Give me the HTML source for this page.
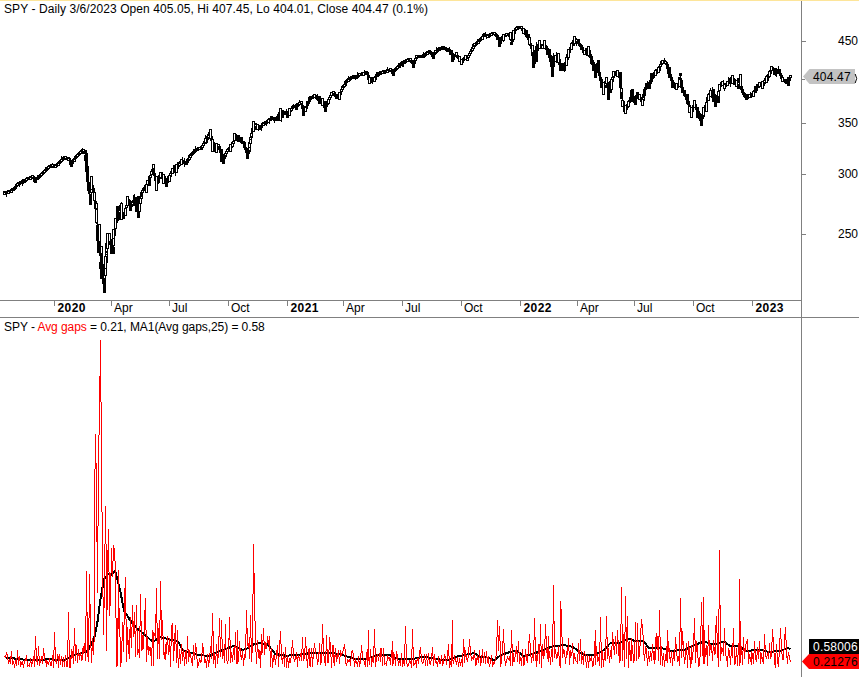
<!DOCTYPE html>
<html><head><meta charset="utf-8"><style>
html,body{margin:0;padding:0;background:#fff;overflow:hidden}
svg{display:block}
text{font-family:"Liberation Sans",sans-serif;font-size:12px;fill:#000}
</style></head><body>
<svg width="859" height="677" viewBox="0 0 859 677">
<rect x="0" y="0" width="859" height="677" fill="#fff"/>
<rect x="0" y="0" width="859" height="1" fill="#fde59a"/>
<g shape-rendering="crispEdges">
<rect x="801" y="1" width="1" height="676" fill="#808080"/>
<rect x="0" y="300" width="801" height="1" fill="#808080"/>
<rect x="0" y="317" width="859" height="1" fill="#808080"/>
<rect x="54" y="301" width="1" height="5" fill="#808080"/><rect x="111" y="301" width="1" height="5" fill="#808080"/><rect x="169" y="301" width="1" height="5" fill="#808080"/><rect x="228" y="301" width="1" height="5" fill="#808080"/><rect x="287" y="301" width="1" height="5" fill="#808080"/><rect x="343" y="301" width="1" height="5" fill="#808080"/><rect x="402" y="301" width="1" height="5" fill="#808080"/><rect x="461" y="301" width="1" height="5" fill="#808080"/><rect x="520" y="301" width="1" height="5" fill="#808080"/><rect x="577" y="301" width="1" height="5" fill="#808080"/><rect x="634" y="301" width="1" height="5" fill="#808080"/><rect x="693" y="301" width="1" height="5" fill="#808080"/><rect x="752" y="301" width="1" height="5" fill="#808080"/>
<rect x="802" y="41" width="4" height="1" fill="#808080"/><rect x="802" y="123" width="4" height="1" fill="#808080"/><rect x="802" y="174" width="4" height="1" fill="#808080"/><rect x="802" y="234" width="4" height="1" fill="#808080"/>
<g fill="#000"><path d="M4 192h1v2h-1z"/><path d="M3 191h3v3h-3z"/><path d="M4 192h1v1h-1z" fill="#fff"/><path d="M5 191h1v3h-1z"/><path d="M4 191h3v3h-3z"/><path d="M6 192h1v5h-1z"/><path d="M5 191h3v3h-3z"/><path d="M7 192h1v2h-1z"/><path d="M6 191h3v3h-3z"/><path d="M8 191h1v2h-1z"/><path d="M7 190h3v3h-3z"/><path d="M8 191h1v1h-1z" fill="#fff"/><path d="M9 191h1v2h-1z"/><path d="M8 190h3v3h-3z"/><path d="M9 191h1v1h-1z" fill="#fff"/><path d="M10 191h1v2h-1z"/><path d="M9 190h3v3h-3z"/><path d="M10 191h1v1h-1z" fill="#fff"/><path d="M10 190h1v2h-1z"/><path d="M9 190h3v3h-3z"/><path d="M10 191h1v1h-1z" fill="#fff"/><path d="M11 190h1v2h-1z"/><path d="M10 189h3v3h-3z"/><path d="M11 190h1v1h-1z" fill="#fff"/><path d="M12 189h1v2h-1z"/><path d="M11 188h3v3h-3z"/><path d="M12 189h1v1h-1z" fill="#fff"/><path d="M13 188h1v2h-1z"/><path d="M12 188h3v3h-3z"/><path d="M13 189h1v1h-1z" fill="#fff"/><path d="M14 187h1v2h-1z"/><path d="M13 187h3v3h-3z"/><path d="M14 188h1v1h-1z" fill="#fff"/><path d="M15 186h1v4h-1z"/><path d="M14 186h3v3h-3z"/><path d="M15 187h1v1h-1z" fill="#fff"/><path d="M16 184h1v2h-1z"/><path d="M15 184h3v3h-3z"/><path d="M16 185h1v1h-1z" fill="#fff"/><path d="M17 183h1v2h-1z"/><path d="M16 183h3v3h-3z"/><path d="M17 184h1v1h-1z" fill="#fff"/><path d="M18 183h1v2h-1z"/><path d="M17 182h3v3h-3z"/><path d="M18 183h1v1h-1z" fill="#fff"/><path d="M19 182h1v5h-1z"/><path d="M18 182h3v3h-3z"/><path d="M19 183h1v1h-1z" fill="#fff"/><path d="M20 182h1v2h-1z"/><path d="M19 181h3v3h-3z"/><path d="M20 182h1v1h-1z" fill="#fff"/><path d="M21 181h1v2h-1z"/><path d="M20 181h3v3h-3z"/><path d="M22 181h1v2h-1z"/><path d="M21 181h3v3h-3z"/><path d="M22 182h1v1h-1z" fill="#fff"/><path d="M22 181h1v5h-1z"/><path d="M21 180h3v3h-3z"/><path d="M22 181h1v1h-1z" fill="#fff"/><path d="M23 180h1v3h-1z"/><path d="M22 179h3v3h-3z"/><path d="M23 180h1v1h-1z" fill="#fff"/><path d="M24 179h1v2h-1z"/><path d="M23 179h3v3h-3z"/><path d="M24 180h1v1h-1z" fill="#fff"/><path d="M25 178h1v3h-1z"/><path d="M24 179h3v3h-3z"/><path d="M25 180h1v1h-1z" fill="#fff"/><path d="M26 178h1v2h-1z"/><path d="M25 178h3v3h-3z"/><path d="M26 179h1v1h-1z" fill="#fff"/><path d="M27 178h1v2h-1z"/><path d="M26 177h3v3h-3z"/><path d="M28 178h1v2h-1z"/><path d="M27 177h3v3h-3z"/><path d="M29 177h1v2h-1z"/><path d="M28 177h3v3h-3z"/><path d="M29 178h1v1h-1z" fill="#fff"/><path d="M30 177h1v2h-1z"/><path d="M29 176h3v3h-3z"/><path d="M30 177h1v1h-1z" fill="#fff"/><path d="M31 176h1v2h-1z"/><path d="M30 176h3v3h-3z"/><path d="M31 177h1v1h-1z" fill="#fff"/><path d="M32 175h1v3h-1z"/><path d="M31 175h3v3h-3z"/><path d="M33 176h1v3h-1z"/><path d="M32 176h3v3h-3z"/><path d="M34 178h1v3h-1z"/><path d="M33 178h3v3h-3z"/><path d="M34 179h1v3h-1z"/><path d="M33 179h3v3h-3z"/><path d="M35 179h1v3h-1z"/><path d="M34 179h3v3h-3z"/><path d="M35 180h1v1h-1z" fill="#fff"/><path d="M36 178h1v2h-1z"/><path d="M35 177h3v3h-3z"/><path d="M36 178h1v1h-1z" fill="#fff"/><path d="M37 177h1v2h-1z"/><path d="M36 177h3v3h-3z"/><path d="M37 178h1v1h-1z" fill="#fff"/><path d="M38 176h1v2h-1z"/><path d="M37 175h3v3h-3z"/><path d="M38 176h1v1h-1z" fill="#fff"/><path d="M39 175h1v2h-1z"/><path d="M38 175h3v3h-3z"/><path d="M39 176h1v1h-1z" fill="#fff"/><path d="M40 174h1v2h-1z"/><path d="M39 174h3v3h-3z"/><path d="M40 175h1v1h-1z" fill="#fff"/><path d="M41 173h1v2h-1z"/><path d="M40 173h3v3h-3z"/><path d="M41 174h1v1h-1z" fill="#fff"/><path d="M42 172h1v3h-1z"/><path d="M41 172h3v3h-3z"/><path d="M42 173h1v1h-1z" fill="#fff"/><path d="M43 171h1v2h-1z"/><path d="M42 171h3v3h-3z"/><path d="M43 172h1v1h-1z" fill="#fff"/><path d="M44 170h1v2h-1z"/><path d="M43 170h3v3h-3z"/><path d="M44 171h1v1h-1z" fill="#fff"/><path d="M45 169h1v3h-1z"/><path d="M44 169h3v3h-3z"/><path d="M45 170h1v1h-1z" fill="#fff"/><path d="M46 169h1v2h-1z"/><path d="M45 168h3v3h-3z"/><path d="M46 169h1v1h-1z" fill="#fff"/><path d="M46 168h1v2h-1z"/><path d="M45 167h3v3h-3z"/><path d="M46 168h1v1h-1z" fill="#fff"/><path d="M47 167h1v2h-1z"/><path d="M46 167h3v3h-3z"/><path d="M47 168h1v1h-1z" fill="#fff"/><path d="M48 166h1v2h-1z"/><path d="M47 166h3v3h-3z"/><path d="M48 167h1v1h-1z" fill="#fff"/><path d="M49 166h1v2h-1z"/><path d="M48 165h3v3h-3z"/><path d="M50 165h1v2h-1z"/><path d="M49 165h3v3h-3z"/><path d="M51 165h1v2h-1z"/><path d="M50 164h3v3h-3z"/><path d="M51 165h1v1h-1z" fill="#fff"/><path d="M52 163h1v4h-1z"/><path d="M51 164h3v3h-3z"/><path d="M52 165h1v1h-1z" fill="#fff"/><path d="M53 165h1v2h-1z"/><path d="M52 165h3v3h-3z"/><path d="M54 165h1v2h-1z"/><path d="M53 164h3v3h-3z"/><path d="M55 166h1v2h-1z"/><path d="M54 165h3v3h-3z"/><path d="M55 166h1v1h-1z" fill="#fff"/><path d="M56 165h1v2h-1z"/><path d="M55 164h3v3h-3z"/><path d="M56 165h1v1h-1z" fill="#fff"/><path d="M57 164h1v2h-1z"/><path d="M56 163h3v3h-3z"/><path d="M57 164h1v1h-1z" fill="#fff"/><path d="M58 163h1v2h-1z"/><path d="M57 163h3v3h-3z"/><path d="M58 164h1v1h-1z" fill="#fff"/><path d="M58 162h1v3h-1z"/><path d="M57 162h3v3h-3z"/><path d="M58 163h1v1h-1z" fill="#fff"/><path d="M59 161h1v2h-1z"/><path d="M58 161h3v3h-3z"/><path d="M59 162h1v1h-1z" fill="#fff"/><path d="M60 159h1v4h-1z"/><path d="M59 160h3v3h-3z"/><path d="M60 161h1v1h-1z" fill="#fff"/><path d="M61 156h1v5h-1z"/><path d="M60 159h3v3h-3z"/><path d="M61 160h1v1h-1z" fill="#fff"/><path d="M62 159h1v2h-1z"/><path d="M61 158h3v3h-3z"/><path d="M62 159h1v1h-1z" fill="#fff"/><path d="M63 158h1v2h-1z"/><path d="M62 157h3v3h-3z"/><path d="M63 158h1v1h-1z" fill="#fff"/><path d="M64 157h1v2h-1z"/><path d="M63 156h3v3h-3z"/><path d="M64 157h1v1h-1z" fill="#fff"/><path d="M65 157h1v2h-1z"/><path d="M64 156h3v3h-3z"/><path d="M66 157h1v2h-1z"/><path d="M65 157h3v3h-3z"/><path d="M67 158h1v2h-1z"/><path d="M66 157h3v3h-3z"/><path d="M68 158h1v2h-1z"/><path d="M67 157h3v3h-3z"/><path d="M69 158h1v4h-1z"/><path d="M68 158h3v3h-3z"/><path d="M70 160h1v4h-1z"/><path d="M69 160h3v3h-3z"/><path d="M70 161h1v5h-1z"/><path d="M69 162h3v3h-3z"/><path d="M71 161h1v5h-1z"/><path d="M70 161h3v3h-3z"/><path d="M71 162h1v1h-1z" fill="#fff"/><path d="M72 160h1v4h-1z"/><path d="M71 161h3v3h-3z"/><path d="M72 162h1v1h-1z" fill="#fff"/><path d="M73 160h1v2h-1z"/><path d="M72 159h3v3h-3z"/><path d="M73 160h1v1h-1z" fill="#fff"/><path d="M74 158h1v3h-1z"/><path d="M73 158h3v3h-3z"/><path d="M74 159h1v1h-1z" fill="#fff"/><path d="M75 157h1v2h-1z"/><path d="M74 156h3v3h-3z"/><path d="M75 157h1v1h-1z" fill="#fff"/><path d="M76 156h1v2h-1z"/><path d="M75 155h3v3h-3z"/><path d="M76 156h1v1h-1z" fill="#fff"/><path d="M77 154h1v2h-1z"/><path d="M76 154h3v3h-3z"/><path d="M77 155h1v1h-1z" fill="#fff"/><path d="M78 153h1v2h-1z"/><path d="M77 153h3v3h-3z"/><path d="M78 154h1v1h-1z" fill="#fff"/><path d="M79 152h1v2h-1z"/><path d="M78 152h3v3h-3z"/><path d="M79 153h1v1h-1z" fill="#fff"/><path d="M80 151h1v2h-1z"/><path d="M79 151h3v3h-3z"/><path d="M80 152h1v1h-1z" fill="#fff"/><path d="M81 151h1v2h-1z"/><path d="M80 150h3v3h-3z"/><path d="M81 151h1v1h-1z" fill="#fff"/><path d="M82 148h1v6h-1z"/><path d="M81 150h3v3h-3z"/><path d="M82 151h1v1h-1z" fill="#fff"/><path d="M82 150h1v2h-1z"/><path d="M81 149h3v3h-3z"/><path d="M83 150h1v2h-1z"/><path d="M82 150h3v3h-3z"/><path d="M83 151h1v1h-1z" fill="#fff"/><path d="M84 151h1v3h-1z"/><path d="M83 151h3v3h-3z"/><path d="M85 152h1v11h-1z"/><path d="M84 155h3v6h-3z"/><path d="M86 161h1v11h-1z"/><path d="M85 162h3v10h-3z"/><path d="M87 166h1v16h-1z"/><path d="M86 172h3v10h-3z"/><path d="M88 180h1v12h-1z"/><path d="M87 182h3v9h-3z"/><path d="M89 190h1v9h-1z"/><path d="M88 190h3v4h-3z"/><path d="M90 189h1v12h-1z"/><path d="M89 190h3v5h-3z"/><path d="M90 191h1v3h-1z" fill="#fff"/><path d="M91 180h1v16h-1z"/><path d="M90 187h3v6h-3z"/><path d="M91 188h1v4h-1z" fill="#fff"/><path d="M92 181h1v11h-1z"/><path d="M91 185h3v3h-3z"/><path d="M92 186h1v1h-1z" fill="#fff"/><path d="M93 185h1v11h-1z"/><path d="M92 188h3v4h-3z"/><path d="M94 191h1v8h-1z"/><path d="M93 193h3v5h-3z"/><path d="M94 196h1v7h-1z"/><path d="M93 198h3v3h-3z"/><path d="M95 200h1v10h-1z"/><path d="M94 201h3v8h-3z"/><path d="M96 207h1v17h-1z"/><path d="M95 208h3v15h-3z"/><path d="M97 223h1v19h-1z"/><path d="M96 225h3v16h-3z"/><path d="M98 238h1v11h-1z"/><path d="M97 237h3v3h-3z"/><path d="M98 238h1v1h-1z" fill="#fff"/><path d="M99 226h1v23h-1z"/><path d="M98 239h3v9h-3z"/><path d="M100 245h1v20h-1z"/><path d="M99 247h3v9h-3z"/><path d="M101 247h1v22h-1z"/><path d="M100 256h3v6h-3z"/><path d="M102 258h1v23h-1z"/><path d="M101 264h3v13h-3z"/><path d="M103 268h1v19h-1z"/><path d="M102 274h3v10h-3z"/><path d="M104 272h1v20h-1z"/><path d="M103 275h3v6h-3z"/><path d="M104 276h1v4h-1z" fill="#fff"/><path d="M105 261h1v18h-1z"/><path d="M104 262h3v14h-3z"/><path d="M105 263h1v12h-1z" fill="#fff"/><path d="M106 253h1v14h-1z"/><path d="M105 253h3v10h-3z"/><path d="M106 254h1v8h-1z" fill="#fff"/><path d="M106 241h1v12h-1z"/><path d="M105 243h3v9h-3z"/><path d="M106 244h1v7h-1z" fill="#fff"/><path d="M107 233h1v16h-1z"/><path d="M106 238h3v4h-3z"/><path d="M107 239h1v2h-1z" fill="#fff"/><path d="M108 233h1v11h-1z"/><path d="M107 238h3v3h-3z"/><path d="M108 239h1v1h-1z" fill="#fff"/><path d="M109 234h1v10h-1z"/><path d="M108 238h3v3h-3z"/><path d="M110 237h1v12h-1z"/><path d="M109 241h3v4h-3z"/><path d="M111 240h1v14h-1z"/><path d="M110 244h3v3h-3z"/><path d="M112 244h1v10h-1z"/><path d="M111 244h3v3h-3z"/><path d="M112 245h1v1h-1z" fill="#fff"/><path d="M113 233h1v13h-1z"/><path d="M112 236h3v10h-3z"/><path d="M113 237h1v8h-1z" fill="#fff"/><path d="M114 225h1v12h-1z"/><path d="M113 229h3v7h-3z"/><path d="M114 230h1v5h-1z" fill="#fff"/><path d="M115 221h1v9h-1z"/><path d="M114 224h3v3h-3z"/><path d="M115 225h1v1h-1z" fill="#fff"/><path d="M116 218h1v7h-1z"/><path d="M115 219h3v4h-3z"/><path d="M116 220h1v2h-1z" fill="#fff"/><path d="M117 215h1v5h-1z"/><path d="M116 215h3v5h-3z"/><path d="M117 216h1v3h-1z" fill="#fff"/><path d="M118 207h1v13h-1z"/><path d="M117 213h3v4h-3z"/><path d="M118 214h1v2h-1z" fill="#fff"/><path d="M118 206h1v14h-1z"/><path d="M117 210h3v3h-3z"/><path d="M119 205h1v15h-1z"/><path d="M118 210h3v4h-3z"/><path d="M119 211h1v2h-1z" fill="#fff"/><path d="M120 204h1v15h-1z"/><path d="M119 212h3v3h-3z"/><path d="M121 202h1v17h-1z"/><path d="M120 211h3v3h-3z"/><path d="M122 210h1v9h-1z"/><path d="M121 214h3v3h-3z"/><path d="M123 215h1v4h-1z"/><path d="M122 214h3v3h-3z"/><path d="M123 215h1v1h-1z" fill="#fff"/><path d="M124 211h1v6h-1z"/><path d="M123 212h3v3h-3z"/><path d="M124 213h1v1h-1z" fill="#fff"/><path d="M125 206h1v8h-1z"/><path d="M124 208h3v4h-3z"/><path d="M125 209h1v2h-1z" fill="#fff"/><path d="M126 203h1v8h-1z"/><path d="M125 205h3v3h-3z"/><path d="M126 206h1v1h-1z" fill="#fff"/><path d="M127 199h1v9h-1z"/><path d="M126 201h3v4h-3z"/><path d="M127 202h1v2h-1z" fill="#fff"/><path d="M128 197h1v9h-1z"/><path d="M127 203h3v3h-3z"/><path d="M128 204h1v1h-1z" fill="#fff"/><path d="M129 199h1v9h-1z"/><path d="M128 201h3v3h-3z"/><path d="M129 201h1v8h-1z"/><path d="M128 203h3v3h-3z"/><path d="M130 200h1v11h-1z"/><path d="M129 203h3v3h-3z"/><path d="M131 201h1v10h-1z"/><path d="M130 203h3v3h-3z"/><path d="M131 204h1v1h-1z" fill="#fff"/><path d="M132 200h1v7h-1z"/><path d="M131 202h3v3h-3z"/><path d="M132 203h1v1h-1z" fill="#fff"/><path d="M133 195h1v11h-1z"/><path d="M132 200h3v3h-3z"/><path d="M134 194h1v12h-1z"/><path d="M133 200h3v3h-3z"/><path d="M134 201h1v1h-1z" fill="#fff"/><path d="M135 197h1v15h-1z"/><path d="M134 200h3v3h-3z"/><path d="M136 197h1v15h-1z"/><path d="M135 203h3v3h-3z"/><path d="M136 204h1v1h-1z" fill="#fff"/><path d="M137 196h1v20h-1z"/><path d="M136 203h3v3h-3z"/><path d="M138 198h1v18h-1z"/><path d="M137 205h3v3h-3z"/><path d="M138 206h1v1h-1z" fill="#fff"/><path d="M139 203h1v8h-1z"/><path d="M138 205h3v3h-3z"/><path d="M139 206h1v1h-1z" fill="#fff"/><path d="M140 197h1v8h-1z"/><path d="M139 198h3v6h-3z"/><path d="M140 199h1v4h-1z" fill="#fff"/><path d="M141 194h1v5h-1z"/><path d="M140 196h3v3h-3z"/><path d="M141 197h1v1h-1z" fill="#fff"/><path d="M141 192h1v4h-1z"/><path d="M140 193h3v3h-3z"/><path d="M141 194h1v1h-1z" fill="#fff"/><path d="M142 190h1v4h-1z"/><path d="M141 190h3v3h-3z"/><path d="M142 191h1v1h-1z" fill="#fff"/><path d="M143 188h1v4h-1z"/><path d="M142 188h3v3h-3z"/><path d="M143 189h1v1h-1z" fill="#fff"/><path d="M144 186h1v5h-1z"/><path d="M143 187h3v3h-3z"/><path d="M144 188h1v1h-1z" fill="#fff"/><path d="M145 185h1v6h-1z"/><path d="M144 186h3v3h-3z"/><path d="M146 183h1v7h-1z"/><path d="M145 184h3v3h-3z"/><path d="M146 185h1v1h-1z" fill="#fff"/><path d="M147 181h1v4h-1z"/><path d="M146 182h3v3h-3z"/><path d="M147 183h1v1h-1z" fill="#fff"/><path d="M148 180h1v5h-1z"/><path d="M147 181h3v3h-3z"/><path d="M148 182h1v1h-1z" fill="#fff"/><path d="M149 178h1v5h-1z"/><path d="M148 178h3v3h-3z"/><path d="M149 179h1v1h-1z" fill="#fff"/><path d="M150 174h1v5h-1z"/><path d="M149 175h3v3h-3z"/><path d="M150 176h1v1h-1z" fill="#fff"/><path d="M151 171h1v4h-1z"/><path d="M150 171h3v4h-3z"/><path d="M151 172h1v2h-1z" fill="#fff"/><path d="M152 167h1v6h-1z"/><path d="M151 169h3v3h-3z"/><path d="M152 170h1v1h-1z" fill="#fff"/><path d="M153 164h1v9h-1z"/><path d="M152 167h3v3h-3z"/><path d="M153 167h1v7h-1z"/><path d="M152 168h3v5h-3z"/><path d="M154 170h1v10h-1z"/><path d="M153 173h3v3h-3z"/><path d="M155 173h1v11h-1z"/><path d="M154 178h3v3h-3z"/><path d="M156 177h1v13h-1z"/><path d="M155 180h3v3h-3z"/><path d="M156 181h1v1h-1z" fill="#fff"/><path d="M157 176h1v11h-1z"/><path d="M156 180h3v3h-3z"/><path d="M157 181h1v1h-1z" fill="#fff"/><path d="M158 175h1v9h-1z"/><path d="M157 177h3v3h-3z"/><path d="M158 178h1v1h-1z" fill="#fff"/><path d="M159 173h1v10h-1z"/><path d="M158 176h3v3h-3z"/><path d="M159 177h1v1h-1z" fill="#fff"/><path d="M160 172h1v5h-1z"/><path d="M159 174h3v3h-3z"/><path d="M161 173h1v6h-1z"/><path d="M160 174h3v3h-3z"/><path d="M161 175h1v1h-1z" fill="#fff"/><path d="M162 172h1v8h-1z"/><path d="M161 175h3v3h-3z"/><path d="M163 174h1v8h-1z"/><path d="M162 176h3v3h-3z"/><path d="M163 177h1v1h-1z" fill="#fff"/><path d="M164 174h1v9h-1z"/><path d="M163 178h3v3h-3z"/><path d="M165 176h1v8h-1z"/><path d="M164 179h3v3h-3z"/><path d="M165 177h1v8h-1z"/><path d="M164 178h3v3h-3z"/><path d="M166 178h1v8h-1z"/><path d="M165 180h3v3h-3z"/><path d="M166 181h1v1h-1z" fill="#fff"/><path d="M167 176h1v9h-1z"/><path d="M166 179h3v3h-3z"/><path d="M168 176h1v7h-1z"/><path d="M167 178h3v3h-3z"/><path d="M168 179h1v1h-1z" fill="#fff"/><path d="M169 175h1v6h-1z"/><path d="M168 176h3v3h-3z"/><path d="M169 177h1v1h-1z" fill="#fff"/><path d="M170 172h1v7h-1z"/><path d="M169 173h3v4h-3z"/><path d="M170 174h1v2h-1z" fill="#fff"/><path d="M171 170h1v5h-1z"/><path d="M170 171h3v3h-3z"/><path d="M171 172h1v1h-1z" fill="#fff"/><path d="M172 168h1v5h-1z"/><path d="M171 170h3v3h-3z"/><path d="M172 171h1v1h-1z" fill="#fff"/><path d="M173 165h1v8h-1z"/><path d="M172 169h3v3h-3z"/><path d="M174 165h1v8h-1z"/><path d="M173 168h3v3h-3z"/><path d="M174 169h1v1h-1z" fill="#fff"/><path d="M175 165h1v11h-1z"/><path d="M174 168h3v3h-3z"/><path d="M176 164h1v9h-1z"/><path d="M175 167h3v3h-3z"/><path d="M176 168h1v1h-1z" fill="#fff"/><path d="M177 163h1v8h-1z"/><path d="M176 166h3v3h-3z"/><path d="M177 167h1v1h-1z" fill="#fff"/><path d="M177 162h1v8h-1z"/><path d="M176 166h3v3h-3z"/><path d="M177 167h1v1h-1z" fill="#fff"/><path d="M178 162h1v6h-1z"/><path d="M177 164h3v3h-3z"/><path d="M179 161h1v6h-1z"/><path d="M178 163h3v3h-3z"/><path d="M179 164h1v1h-1z" fill="#fff"/><path d="M180 159h1v6h-1z"/><path d="M179 161h3v3h-3z"/><path d="M180 162h1v1h-1z" fill="#fff"/><path d="M181 159h1v6h-1z"/><path d="M180 160h3v3h-3z"/><path d="M181 161h1v1h-1z" fill="#fff"/><path d="M182 157h1v7h-1z"/><path d="M181 160h3v3h-3z"/><path d="M183 160h1v4h-1z"/><path d="M182 161h3v3h-3z"/><path d="M184 158h1v9h-1z"/><path d="M183 161h3v3h-3z"/><path d="M184 162h1v1h-1z" fill="#fff"/><path d="M185 161h1v3h-1z"/><path d="M184 161h3v3h-3z"/><path d="M186 159h1v5h-1z"/><path d="M185 161h3v3h-3z"/><path d="M186 162h1v1h-1z" fill="#fff"/><path d="M187 160h1v3h-1z"/><path d="M186 160h3v3h-3z"/><path d="M187 161h1v1h-1z" fill="#fff"/><path d="M188 156h1v5h-1z"/><path d="M187 158h3v3h-3z"/><path d="M188 159h1v1h-1z" fill="#fff"/><path d="M189 155h1v4h-1z"/><path d="M188 157h3v3h-3z"/><path d="M189 158h1v1h-1z" fill="#fff"/><path d="M189 155h1v3h-1z"/><path d="M188 155h3v3h-3z"/><path d="M189 156h1v1h-1z" fill="#fff"/><path d="M190 154h1v3h-1z"/><path d="M189 154h3v3h-3z"/><path d="M190 155h1v1h-1z" fill="#fff"/><path d="M191 153h1v2h-1z"/><path d="M190 153h3v3h-3z"/><path d="M191 154h1v1h-1z" fill="#fff"/><path d="M192 152h1v4h-1z"/><path d="M191 152h3v3h-3z"/><path d="M192 153h1v1h-1z" fill="#fff"/><path d="M193 151h1v3h-1z"/><path d="M192 151h3v3h-3z"/><path d="M193 152h1v1h-1z" fill="#fff"/><path d="M194 150h1v2h-1z"/><path d="M193 150h3v3h-3z"/><path d="M194 151h1v1h-1z" fill="#fff"/><path d="M195 146h1v6h-1z"/><path d="M194 149h3v3h-3z"/><path d="M195 150h1v1h-1z" fill="#fff"/><path d="M196 149h1v2h-1z"/><path d="M195 148h3v3h-3z"/><path d="M197 148h1v2h-1z"/><path d="M196 148h3v3h-3z"/><path d="M197 149h1v1h-1z" fill="#fff"/><path d="M198 148h1v2h-1z"/><path d="M197 147h3v3h-3z"/><path d="M198 148h1v1h-1z" fill="#fff"/><path d="M199 148h1v1h-1z"/><path d="M198 147h3v3h-3z"/><path d="M199 148h1v1h-1z" fill="#fff"/><path d="M200 146h1v3h-1z"/><path d="M199 147h3v3h-3z"/><path d="M200 148h1v1h-1z" fill="#fff"/><path d="M201 146h1v4h-1z"/><path d="M200 147h3v3h-3z"/><path d="M201 147h1v3h-1z"/><path d="M200 146h3v3h-3z"/><path d="M201 147h1v1h-1z" fill="#fff"/><path d="M202 144h1v5h-1z"/><path d="M201 145h3v3h-3z"/><path d="M202 146h1v1h-1z" fill="#fff"/><path d="M203 142h1v4h-1z"/><path d="M202 143h3v3h-3z"/><path d="M203 144h1v1h-1z" fill="#fff"/><path d="M204 139h1v5h-1z"/><path d="M203 141h3v3h-3z"/><path d="M204 142h1v1h-1z" fill="#fff"/><path d="M205 135h1v8h-1z"/><path d="M204 139h3v3h-3z"/><path d="M205 140h1v1h-1z" fill="#fff"/><path d="M206 136h1v8h-1z"/><path d="M205 137h3v3h-3z"/><path d="M206 138h1v1h-1z" fill="#fff"/><path d="M207 134h1v9h-1z"/><path d="M206 136h3v3h-3z"/><path d="M207 137h1v1h-1z" fill="#fff"/><path d="M208 132h1v8h-1z"/><path d="M207 134h3v4h-3z"/><path d="M208 135h1v2h-1z" fill="#fff"/><path d="M209 130h1v9h-1z"/><path d="M208 133h3v3h-3z"/><path d="M209 134h1v1h-1z" fill="#fff"/><path d="M210 130h1v10h-1z"/><path d="M209 133h3v5h-3z"/><path d="M211 134h1v11h-1z"/><path d="M210 138h3v3h-3z"/><path d="M212 136h1v14h-1z"/><path d="M211 141h3v3h-3z"/><path d="M213 140h1v11h-1z"/><path d="M212 144h3v3h-3z"/><path d="M213 141h1v11h-1z"/><path d="M212 147h3v3h-3z"/><path d="M214 142h1v10h-1z"/><path d="M213 145h3v4h-3z"/><path d="M215 144h1v8h-1z"/><path d="M214 146h3v3h-3z"/><path d="M216 144h1v7h-1z"/><path d="M215 146h3v3h-3z"/><path d="M216 147h1v1h-1z" fill="#fff"/><path d="M217 145h1v4h-1z"/><path d="M216 146h3v3h-3z"/><path d="M217 147h1v1h-1z" fill="#fff"/><path d="M218 145h1v2h-1z"/><path d="M217 145h3v3h-3z"/><path d="M219 146h1v7h-1z"/><path d="M218 146h3v4h-3z"/><path d="M220 148h1v8h-1z"/><path d="M219 150h3v3h-3z"/><path d="M221 149h1v10h-1z"/><path d="M220 151h3v3h-3z"/><path d="M222 151h1v11h-1z"/><path d="M221 154h3v3h-3z"/><path d="M223 154h1v9h-1z"/><path d="M222 157h3v3h-3z"/><path d="M224 153h1v8h-1z"/><path d="M223 156h3v3h-3z"/><path d="M224 157h1v1h-1z" fill="#fff"/><path d="M225 154h1v5h-1z"/><path d="M224 154h3v3h-3z"/><path d="M225 155h1v1h-1z" fill="#fff"/><path d="M225 152h1v4h-1z"/><path d="M224 153h3v3h-3z"/><path d="M225 154h1v1h-1z" fill="#fff"/><path d="M226 151h1v3h-1z"/><path d="M225 151h3v3h-3z"/><path d="M226 152h1v1h-1z" fill="#fff"/><path d="M227 149h1v3h-1z"/><path d="M226 149h3v3h-3z"/><path d="M227 150h1v1h-1z" fill="#fff"/><path d="M228 148h1v3h-1z"/><path d="M227 148h3v3h-3z"/><path d="M228 149h1v1h-1z" fill="#fff"/><path d="M229 146h1v5h-1z"/><path d="M228 147h3v3h-3z"/><path d="M229 148h1v1h-1z" fill="#fff"/><path d="M230 145h1v5h-1z"/><path d="M229 145h3v3h-3z"/><path d="M230 146h1v1h-1z" fill="#fff"/><path d="M231 142h1v6h-1z"/><path d="M230 145h3v3h-3z"/><path d="M231 146h1v1h-1z" fill="#fff"/><path d="M232 143h1v4h-1z"/><path d="M231 143h3v3h-3z"/><path d="M232 144h1v1h-1z" fill="#fff"/><path d="M233 140h1v4h-1z"/><path d="M232 141h3v3h-3z"/><path d="M233 142h1v1h-1z" fill="#fff"/><path d="M234 136h1v6h-1z"/><path d="M233 138h3v3h-3z"/><path d="M234 139h1v1h-1z" fill="#fff"/><path d="M235 133h1v8h-1z"/><path d="M234 135h3v3h-3z"/><path d="M235 136h1v1h-1z" fill="#fff"/><path d="M236 134h1v7h-1z"/><path d="M235 137h3v3h-3z"/><path d="M237 135h1v6h-1z"/><path d="M236 137h3v3h-3z"/><path d="M237 135h1v7h-1z"/><path d="M236 137h3v3h-3z"/><path d="M237 138h1v1h-1z" fill="#fff"/><path d="M238 136h1v6h-1z"/><path d="M237 137h3v3h-3z"/><path d="M238 138h1v1h-1z" fill="#fff"/><path d="M239 136h1v6h-1z"/><path d="M238 137h3v3h-3z"/><path d="M240 137h1v5h-1z"/><path d="M239 138h3v3h-3z"/><path d="M241 138h1v5h-1z"/><path d="M240 139h3v3h-3z"/><path d="M242 139h1v5h-1z"/><path d="M241 141h3v3h-3z"/><path d="M243 141h1v5h-1z"/><path d="M242 141h3v3h-3z"/><path d="M244 143h1v5h-1z"/><path d="M243 144h3v4h-3z"/><path d="M245 146h1v6h-1z"/><path d="M244 147h3v3h-3z"/><path d="M246 149h1v6h-1z"/><path d="M245 150h3v3h-3z"/><path d="M247 148h1v10h-1z"/><path d="M246 152h3v3h-3z"/><path d="M248 150h1v5h-1z"/><path d="M247 151h3v3h-3z"/><path d="M248 152h1v1h-1z" fill="#fff"/><path d="M249 147h1v5h-1z"/><path d="M248 148h3v4h-3z"/><path d="M249 149h1v2h-1z" fill="#fff"/><path d="M249 141h1v8h-1z"/><path d="M248 142h3v7h-3z"/><path d="M249 143h1v5h-1z" fill="#fff"/><path d="M250 137h1v7h-1z"/><path d="M249 137h3v6h-3z"/><path d="M250 138h1v4h-1z" fill="#fff"/><path d="M251 132h1v6h-1z"/><path d="M250 133h3v5h-3z"/><path d="M251 134h1v3h-1z" fill="#fff"/><path d="M252 126h1v8h-1z"/><path d="M251 128h3v4h-3z"/><path d="M252 129h1v2h-1z" fill="#fff"/><path d="M253 122h1v9h-1z"/><path d="M252 126h3v3h-3z"/><path d="M253 127h1v1h-1z" fill="#fff"/><path d="M254 122h1v9h-1z"/><path d="M253 125h3v3h-3z"/><path d="M254 126h1v1h-1z" fill="#fff"/><path d="M255 123h1v7h-1z"/><path d="M254 124h3v3h-3z"/><path d="M255 125h1v1h-1z" fill="#fff"/><path d="M256 123h1v7h-1z"/><path d="M255 126h3v3h-3z"/><path d="M256 127h1v1h-1z" fill="#fff"/><path d="M257 124h1v5h-1z"/><path d="M256 125h3v3h-3z"/><path d="M257 126h1v1h-1z" fill="#fff"/><path d="M258 125h1v6h-1z"/><path d="M257 125h3v3h-3z"/><path d="M259 125h1v4h-1z"/><path d="M258 125h3v3h-3z"/><path d="M259 126h1v1h-1z" fill="#fff"/><path d="M260 126h1v3h-1z"/><path d="M259 126h3v3h-3z"/><path d="M261 126h1v3h-1z"/><path d="M260 125h3v3h-3z"/><path d="M261 126h1v1h-1z" fill="#fff"/><path d="M261 125h1v6h-1z"/><path d="M260 125h3v3h-3z"/><path d="M261 126h1v1h-1z" fill="#fff"/><path d="M262 124h1v2h-1z"/><path d="M261 123h3v3h-3z"/><path d="M262 124h1v1h-1z" fill="#fff"/><path d="M263 123h1v2h-1z"/><path d="M262 122h3v3h-3z"/><path d="M263 123h1v1h-1z" fill="#fff"/><path d="M264 122h1v3h-1z"/><path d="M263 122h3v3h-3z"/><path d="M264 123h1v1h-1z" fill="#fff"/><path d="M265 122h1v3h-1z"/><path d="M264 121h3v3h-3z"/><path d="M266 121h1v5h-1z"/><path d="M265 121h3v3h-3z"/><path d="M266 122h1v1h-1z" fill="#fff"/><path d="M267 120h1v3h-1z"/><path d="M266 120h3v3h-3z"/><path d="M267 121h1v1h-1z" fill="#fff"/><path d="M268 119h1v3h-1z"/><path d="M267 119h3v3h-3z"/><path d="M269 119h1v5h-1z"/><path d="M268 118h3v3h-3z"/><path d="M269 119h1v1h-1z" fill="#fff"/><path d="M270 118h1v3h-1z"/><path d="M269 118h3v3h-3z"/><path d="M270 119h1v1h-1z" fill="#fff"/><path d="M271 117h1v3h-1z"/><path d="M270 117h3v3h-3z"/><path d="M271 118h1v1h-1z" fill="#fff"/><path d="M272 116h1v4h-1z"/><path d="M271 117h3v3h-3z"/><path d="M273 117h1v3h-1z"/><path d="M272 117h3v3h-3z"/><path d="M273 117h1v3h-1z"/><path d="M272 117h3v3h-3z"/><path d="M274 118h1v5h-1z"/><path d="M273 118h3v3h-3z"/><path d="M275 118h1v3h-1z"/><path d="M274 118h3v3h-3z"/><path d="M275 119h1v1h-1z" fill="#fff"/><path d="M276 116h1v5h-1z"/><path d="M275 117h3v3h-3z"/><path d="M276 118h1v1h-1z" fill="#fff"/><path d="M277 114h1v7h-1z"/><path d="M276 116h3v3h-3z"/><path d="M278 112h1v9h-1z"/><path d="M277 115h3v3h-3z"/><path d="M278 116h1v1h-1z" fill="#fff"/><path d="M279 110h1v11h-1z"/><path d="M278 114h3v3h-3z"/><path d="M280 109h1v12h-1z"/><path d="M279 113h3v3h-3z"/><path d="M280 114h1v1h-1z" fill="#fff"/><path d="M281 109h1v13h-1z"/><path d="M280 114h3v3h-3z"/><path d="M281 115h1v1h-1z" fill="#fff"/><path d="M282 110h1v8h-1z"/><path d="M281 113h3v3h-3z"/><path d="M282 114h1v1h-1z" fill="#fff"/><path d="M283 110h1v8h-1z"/><path d="M282 112h3v3h-3z"/><path d="M284 111h1v4h-1z"/><path d="M283 111h3v3h-3z"/><path d="M285 111h1v3h-1z"/><path d="M284 111h3v3h-3z"/><path d="M285 111h1v4h-1z"/><path d="M284 112h3v3h-3z"/><path d="M286 109h1v8h-1z"/><path d="M285 112h3v3h-3z"/><path d="M287 111h1v6h-1z"/><path d="M286 113h3v3h-3z"/><path d="M287 114h1v1h-1z" fill="#fff"/><path d="M288 110h1v6h-1z"/><path d="M287 111h3v3h-3z"/><path d="M288 112h1v1h-1z" fill="#fff"/><path d="M289 109h1v6h-1z"/><path d="M288 110h3v3h-3z"/><path d="M289 111h1v1h-1z" fill="#fff"/><path d="M290 108h1v5h-1z"/><path d="M289 109h3v3h-3z"/><path d="M290 110h1v1h-1z" fill="#fff"/><path d="M291 107h1v4h-1z"/><path d="M290 108h3v3h-3z"/><path d="M291 109h1v1h-1z" fill="#fff"/><path d="M292 106h1v3h-1z"/><path d="M291 106h3v3h-3z"/><path d="M292 107h1v1h-1z" fill="#fff"/><path d="M293 104h1v4h-1z"/><path d="M292 105h3v3h-3z"/><path d="M293 106h1v1h-1z" fill="#fff"/><path d="M294 105h1v3h-1z"/><path d="M293 105h3v3h-3z"/><path d="M294 106h1v1h-1z" fill="#fff"/><path d="M295 105h1v4h-1z"/><path d="M294 105h3v3h-3z"/><path d="M295 106h1v1h-1z" fill="#fff"/><path d="M296 104h1v5h-1z"/><path d="M295 105h3v3h-3z"/><path d="M297 104h1v4h-1z"/><path d="M296 104h3v3h-3z"/><path d="M297 105h1v1h-1z" fill="#fff"/><path d="M297 104h1v4h-1z"/><path d="M296 103h3v3h-3z"/><path d="M297 104h1v1h-1z" fill="#fff"/><path d="M298 103h1v2h-1z"/><path d="M297 103h3v3h-3z"/><path d="M298 104h1v1h-1z" fill="#fff"/><path d="M299 100h1v4h-1z"/><path d="M298 102h3v3h-3z"/><path d="M299 103h1v1h-1z" fill="#fff"/><path d="M300 101h1v3h-1z"/><path d="M299 101h3v3h-3z"/><path d="M300 102h1v1h-1z" fill="#fff"/><path d="M301 102h1v3h-1z"/><path d="M300 102h3v3h-3z"/><path d="M302 104h1v6h-1z"/><path d="M301 105h3v4h-3z"/><path d="M303 106h1v7h-1z"/><path d="M302 107h3v3h-3z"/><path d="M304 107h1v7h-1z"/><path d="M303 109h3v3h-3z"/><path d="M304 110h1v1h-1z" fill="#fff"/><path d="M305 107h1v5h-1z"/><path d="M304 107h3v3h-3z"/><path d="M305 108h1v1h-1z" fill="#fff"/><path d="M306 105h1v4h-1z"/><path d="M305 106h3v3h-3z"/><path d="M306 107h1v1h-1z" fill="#fff"/><path d="M307 103h1v6h-1z"/><path d="M306 103h3v3h-3z"/><path d="M307 104h1v1h-1z" fill="#fff"/><path d="M308 101h1v3h-1z"/><path d="M307 101h3v3h-3z"/><path d="M308 102h1v1h-1z" fill="#fff"/><path d="M309 99h1v5h-1z"/><path d="M308 99h3v3h-3z"/><path d="M309 100h1v1h-1z" fill="#fff"/><path d="M309 96h1v4h-1z"/><path d="M308 97h3v3h-3z"/><path d="M309 98h1v1h-1z" fill="#fff"/><path d="M310 97h1v2h-1z"/><path d="M309 97h3v3h-3z"/><path d="M310 98h1v1h-1z" fill="#fff"/><path d="M311 97h1v2h-1z"/><path d="M310 96h3v3h-3z"/><path d="M311 97h1v1h-1z" fill="#fff"/><path d="M312 96h1v2h-1z"/><path d="M311 96h3v3h-3z"/><path d="M312 97h1v1h-1z" fill="#fff"/><path d="M313 95h1v3h-1z"/><path d="M312 95h3v3h-3z"/><path d="M313 96h1v1h-1z" fill="#fff"/><path d="M314 95h1v2h-1z"/><path d="M313 95h3v3h-3z"/><path d="M314 96h1v1h-1z" fill="#fff"/><path d="M315 95h1v3h-1z"/><path d="M314 95h3v3h-3z"/><path d="M315 96h1v1h-1z" fill="#fff"/><path d="M316 96h1v4h-1z"/><path d="M315 96h3v3h-3z"/><path d="M317 94h1v7h-1z"/><path d="M316 97h3v3h-3z"/><path d="M318 97h1v5h-1z"/><path d="M317 97h3v3h-3z"/><path d="M319 97h1v6h-1z"/><path d="M318 98h3v3h-3z"/><path d="M320 97h1v7h-1z"/><path d="M319 99h3v3h-3z"/><path d="M320 100h1v1h-1z" fill="#fff"/><path d="M321 98h1v6h-1z"/><path d="M320 100h3v3h-3z"/><path d="M321 101h1v1h-1z" fill="#fff"/><path d="M321 98h1v7h-1z"/><path d="M320 100h3v3h-3z"/><path d="M321 101h1v1h-1z" fill="#fff"/><path d="M322 98h1v8h-1z"/><path d="M321 101h3v3h-3z"/><path d="M323 98h1v10h-1z"/><path d="M322 101h3v3h-3z"/><path d="M324 101h1v8h-1z"/><path d="M323 103h3v3h-3z"/><path d="M325 102h1v9h-1z"/><path d="M324 105h3v3h-3z"/><path d="M325 106h1v1h-1z" fill="#fff"/><path d="M326 101h1v8h-1z"/><path d="M325 104h3v3h-3z"/><path d="M326 105h1v1h-1z" fill="#fff"/><path d="M327 100h1v7h-1z"/><path d="M326 102h3v3h-3z"/><path d="M327 103h1v1h-1z" fill="#fff"/><path d="M328 100h1v4h-1z"/><path d="M327 100h3v3h-3z"/><path d="M328 101h1v1h-1z" fill="#fff"/><path d="M329 97h1v4h-1z"/><path d="M328 97h3v3h-3z"/><path d="M329 98h1v1h-1z" fill="#fff"/><path d="M330 94h1v5h-1z"/><path d="M329 95h3v3h-3z"/><path d="M330 96h1v1h-1z" fill="#fff"/><path d="M331 92h1v4h-1z"/><path d="M330 93h3v3h-3z"/><path d="M331 94h1v1h-1z" fill="#fff"/><path d="M332 92h1v3h-1z"/><path d="M331 92h3v3h-3z"/><path d="M332 93h1v1h-1z" fill="#fff"/><path d="M333 92h1v3h-1z"/><path d="M332 91h3v3h-3z"/><path d="M333 92h1v1h-1z" fill="#fff"/><path d="M333 92h1v2h-1z"/><path d="M332 92h3v3h-3z"/><path d="M334 93h1v2h-1z"/><path d="M333 93h3v3h-3z"/><path d="M335 92h1v5h-1z"/><path d="M334 94h3v3h-3z"/><path d="M336 95h1v3h-1z"/><path d="M335 94h3v3h-3z"/><path d="M337 94h1v5h-1z"/><path d="M336 95h3v3h-3z"/><path d="M337 96h1v1h-1z" fill="#fff"/><path d="M338 93h1v6h-1z"/><path d="M337 95h3v3h-3z"/><path d="M338 96h1v1h-1z" fill="#fff"/><path d="M339 92h1v7h-1z"/><path d="M338 94h3v3h-3z"/><path d="M339 95h1v1h-1z" fill="#fff"/><path d="M340 91h1v5h-1z"/><path d="M339 92h3v3h-3z"/><path d="M340 93h1v1h-1z" fill="#fff"/><path d="M341 86h1v6h-1z"/><path d="M340 89h3v3h-3z"/><path d="M341 90h1v1h-1z" fill="#fff"/><path d="M342 87h1v3h-1z"/><path d="M341 87h3v3h-3z"/><path d="M342 88h1v1h-1z" fill="#fff"/><path d="M343 86h1v3h-1z"/><path d="M342 85h3v3h-3z"/><path d="M343 86h1v1h-1z" fill="#fff"/><path d="M344 84h1v2h-1z"/><path d="M343 84h3v3h-3z"/><path d="M344 85h1v1h-1z" fill="#fff"/><path d="M345 83h1v2h-1z"/><path d="M344 83h3v3h-3z"/><path d="M345 84h1v1h-1z" fill="#fff"/><path d="M345 82h1v2h-1z"/><path d="M344 81h3v3h-3z"/><path d="M345 82h1v1h-1z" fill="#fff"/><path d="M346 81h1v2h-1z"/><path d="M345 80h3v3h-3z"/><path d="M346 81h1v1h-1z" fill="#fff"/><path d="M347 80h1v1h-1z"/><path d="M346 79h3v3h-3z"/><path d="M347 80h1v1h-1z" fill="#fff"/><path d="M348 76h1v5h-1z"/><path d="M347 78h3v3h-3z"/><path d="M348 79h1v1h-1z" fill="#fff"/><path d="M349 78h1v2h-1z"/><path d="M348 78h3v3h-3z"/><path d="M349 79h1v1h-1z" fill="#fff"/><path d="M350 78h1v2h-1z"/><path d="M349 77h3v3h-3z"/><path d="M350 78h1v1h-1z" fill="#fff"/><path d="M351 77h1v2h-1z"/><path d="M350 76h3v3h-3z"/><path d="M351 77h1v1h-1z" fill="#fff"/><path d="M352 76h1v3h-1z"/><path d="M351 76h3v3h-3z"/><path d="M353 76h1v2h-1z"/><path d="M352 75h3v3h-3z"/><path d="M353 76h1v1h-1z" fill="#fff"/><path d="M354 76h1v2h-1z"/><path d="M353 76h3v3h-3z"/><path d="M355 76h1v4h-1z"/><path d="M354 75h3v3h-3z"/><path d="M355 76h1v1h-1z" fill="#fff"/><path d="M356 76h1v2h-1z"/><path d="M355 76h3v3h-3z"/><path d="M356 77h1v1h-1z" fill="#fff"/><path d="M356 76h1v2h-1z"/><path d="M355 75h3v3h-3z"/><path d="M356 76h1v1h-1z" fill="#fff"/><path d="M357 72h1v5h-1z"/><path d="M356 75h3v3h-3z"/><path d="M357 76h1v1h-1z" fill="#fff"/><path d="M358 74h1v4h-1z"/><path d="M357 74h3v3h-3z"/><path d="M358 75h1v1h-1z" fill="#fff"/><path d="M359 74h1v1h-1z"/><path d="M358 73h3v3h-3z"/><path d="M360 73h1v2h-1z"/><path d="M359 73h3v3h-3z"/><path d="M360 74h1v1h-1z" fill="#fff"/><path d="M361 73h1v2h-1z"/><path d="M360 73h3v3h-3z"/><path d="M361 74h1v1h-1z" fill="#fff"/><path d="M362 73h1v2h-1z"/><path d="M361 72h3v3h-3z"/><path d="M363 73h1v2h-1z"/><path d="M362 72h3v3h-3z"/><path d="M363 73h1v1h-1z" fill="#fff"/><path d="M364 70h1v5h-1z"/><path d="M363 72h3v3h-3z"/><path d="M364 73h1v1h-1z" fill="#fff"/><path d="M365 72h1v2h-1z"/><path d="M364 72h3v3h-3z"/><path d="M366 72h1v2h-1z"/><path d="M365 71h3v3h-3z"/><path d="M366 72h1v1h-1z" fill="#fff"/><path d="M367 72h1v5h-1z"/><path d="M366 72h3v3h-3z"/><path d="M368 74h1v4h-1z"/><path d="M367 75h3v3h-3z"/><path d="M368 76h1v8h-1z"/><path d="M367 77h3v3h-3z"/><path d="M369 77h1v6h-1z"/><path d="M368 78h3v3h-3z"/><path d="M369 79h1v1h-1z" fill="#fff"/><path d="M370 77h1v6h-1z"/><path d="M369 78h3v3h-3z"/><path d="M370 79h1v1h-1z" fill="#fff"/><path d="M371 77h1v6h-1z"/><path d="M370 79h3v3h-3z"/><path d="M372 77h1v7h-1z"/><path d="M371 79h3v3h-3z"/><path d="M372 80h1v1h-1z" fill="#fff"/><path d="M373 77h1v5h-1z"/><path d="M372 78h3v3h-3z"/><path d="M374 76h1v5h-1z"/><path d="M373 77h3v3h-3z"/><path d="M375 75h1v5h-1z"/><path d="M374 77h3v3h-3z"/><path d="M375 78h1v1h-1z" fill="#fff"/><path d="M376 74h1v4h-1z"/><path d="M375 74h3v3h-3z"/><path d="M376 75h1v1h-1z" fill="#fff"/><path d="M377 73h1v4h-1z"/><path d="M376 74h3v3h-3z"/><path d="M377 75h1v1h-1z" fill="#fff"/><path d="M378 72h1v4h-1z"/><path d="M377 73h3v3h-3z"/><path d="M378 74h1v1h-1z" fill="#fff"/><path d="M379 72h1v3h-1z"/><path d="M378 72h3v3h-3z"/><path d="M379 73h1v1h-1z" fill="#fff"/><path d="M380 72h1v3h-1z"/><path d="M379 72h3v3h-3z"/><path d="M380 71h1v3h-1z"/><path d="M379 71h3v3h-3z"/><path d="M380 72h1v1h-1z" fill="#fff"/><path d="M381 71h1v3h-1z"/><path d="M380 71h3v3h-3z"/><path d="M382 71h1v3h-1z"/><path d="M381 71h3v3h-3z"/><path d="M382 72h1v1h-1z" fill="#fff"/><path d="M383 71h1v2h-1z"/><path d="M382 70h3v3h-3z"/><path d="M383 71h1v1h-1z" fill="#fff"/><path d="M384 71h1v2h-1z"/><path d="M383 71h3v3h-3z"/><path d="M384 72h1v1h-1z" fill="#fff"/><path d="M385 70h1v2h-1z"/><path d="M384 70h3v3h-3z"/><path d="M385 71h1v1h-1z" fill="#fff"/><path d="M386 70h1v2h-1z"/><path d="M385 70h3v3h-3z"/><path d="M386 71h1v1h-1z" fill="#fff"/><path d="M387 67h1v4h-1z"/><path d="M386 69h3v3h-3z"/><path d="M387 70h1v1h-1z" fill="#fff"/><path d="M388 70h1v1h-1z"/><path d="M387 69h3v3h-3z"/><path d="M388 70h1v1h-1z" fill="#fff"/><path d="M389 69h1v2h-1z"/><path d="M388 69h3v3h-3z"/><path d="M390 69h1v1h-1z"/><path d="M389 68h3v3h-3z"/><path d="M390 69h1v1h-1z" fill="#fff"/><path d="M391 69h1v3h-1z"/><path d="M390 69h3v3h-3z"/><path d="M392 70h1v3h-1z"/><path d="M391 70h3v3h-3z"/><path d="M392 71h1v3h-1z"/><path d="M391 71h3v3h-3z"/><path d="M393 69h1v5h-1z"/><path d="M392 71h3v3h-3z"/><path d="M393 72h1v1h-1z" fill="#fff"/><path d="M394 70h1v3h-1z"/><path d="M393 69h3v3h-3z"/><path d="M394 70h1v1h-1z" fill="#fff"/><path d="M395 69h1v2h-1z"/><path d="M394 68h3v3h-3z"/><path d="M395 69h1v1h-1z" fill="#fff"/><path d="M396 68h1v1h-1z"/><path d="M395 67h3v3h-3z"/><path d="M396 68h1v1h-1z" fill="#fff"/><path d="M397 66h1v2h-1z"/><path d="M396 66h3v3h-3z"/><path d="M397 67h1v1h-1z" fill="#fff"/><path d="M398 63h1v5h-1z"/><path d="M397 65h3v3h-3z"/><path d="M398 66h1v1h-1z" fill="#fff"/><path d="M399 64h1v3h-1z"/><path d="M398 64h3v3h-3z"/><path d="M399 65h1v1h-1z" fill="#fff"/><path d="M400 64h1v4h-1z"/><path d="M399 63h3v3h-3z"/><path d="M401 63h1v2h-1z"/><path d="M400 62h3v3h-3z"/><path d="M401 63h1v1h-1z" fill="#fff"/><path d="M402 62h1v5h-1z"/><path d="M401 62h3v3h-3z"/><path d="M402 63h1v1h-1z" fill="#fff"/><path d="M403 61h1v6h-1z"/><path d="M402 61h3v3h-3z"/><path d="M403 62h1v1h-1z" fill="#fff"/><path d="M404 61h1v2h-1z"/><path d="M403 61h3v3h-3z"/><path d="M404 62h1v1h-1z" fill="#fff"/><path d="M404 60h1v3h-1z"/><path d="M403 60h3v3h-3z"/><path d="M405 60h1v3h-1z"/><path d="M404 60h3v3h-3z"/><path d="M405 61h1v1h-1z" fill="#fff"/><path d="M406 60h1v2h-1z"/><path d="M405 59h3v3h-3z"/><path d="M406 60h1v1h-1z" fill="#fff"/><path d="M407 59h1v3h-1z"/><path d="M406 59h3v3h-3z"/><path d="M408 59h1v2h-1z"/><path d="M407 58h3v3h-3z"/><path d="M408 59h1v1h-1z" fill="#fff"/><path d="M409 59h1v2h-1z"/><path d="M408 59h3v3h-3z"/><path d="M409 60h1v1h-1z" fill="#fff"/><path d="M410 59h1v2h-1z"/><path d="M409 59h3v3h-3z"/><path d="M411 59h1v4h-1z"/><path d="M410 60h3v3h-3z"/><path d="M412 60h1v8h-1z"/><path d="M411 61h3v3h-3z"/><path d="M413 60h1v7h-1z"/><path d="M412 62h3v3h-3z"/><path d="M413 63h1v1h-1z" fill="#fff"/><path d="M414 59h1v6h-1z"/><path d="M413 60h3v4h-3z"/><path d="M414 61h1v2h-1z" fill="#fff"/><path d="M415 58h1v4h-1z"/><path d="M414 58h3v3h-3z"/><path d="M415 59h1v1h-1z" fill="#fff"/><path d="M416 56h1v3h-1z"/><path d="M415 56h3v3h-3z"/><path d="M416 57h1v1h-1z" fill="#fff"/><path d="M416 56h1v1h-1z"/><path d="M415 55h3v3h-3z"/><path d="M416 56h1v1h-1z" fill="#fff"/><path d="M417 56h1v1h-1z"/><path d="M416 55h3v3h-3z"/><path d="M418 56h1v1h-1z"/><path d="M417 55h3v3h-3z"/><path d="M418 56h1v1h-1z" fill="#fff"/><path d="M419 56h1v1h-1z"/><path d="M418 55h3v3h-3z"/><path d="M419 56h1v1h-1z" fill="#fff"/><path d="M420 56h1v1h-1z"/><path d="M419 55h3v3h-3z"/><path d="M421 56h1v1h-1z"/><path d="M420 55h3v3h-3z"/><path d="M421 56h1v1h-1z" fill="#fff"/><path d="M422 56h1v1h-1z"/><path d="M421 55h3v3h-3z"/><path d="M422 56h1v1h-1z" fill="#fff"/><path d="M423 52h1v4h-1z"/><path d="M422 54h3v3h-3z"/><path d="M423 55h1v1h-1z" fill="#fff"/><path d="M424 54h1v4h-1z"/><path d="M423 54h3v3h-3z"/><path d="M424 55h1v1h-1z" fill="#fff"/><path d="M425 54h1v1h-1z"/><path d="M424 53h3v3h-3z"/><path d="M425 54h1v1h-1z" fill="#fff"/><path d="M426 51h1v3h-1z"/><path d="M425 52h3v3h-3z"/><path d="M426 53h1v1h-1z" fill="#fff"/><path d="M427 52h1v2h-1z"/><path d="M426 52h3v3h-3z"/><path d="M427 53h1v1h-1z" fill="#fff"/><path d="M428 52h1v1h-1z"/><path d="M427 51h3v3h-3z"/><path d="M428 52h1v1h-1z" fill="#fff"/><path d="M428 52h1v1h-1z"/><path d="M427 51h3v3h-3z"/><path d="M428 52h1v1h-1z" fill="#fff"/><path d="M429 51h1v1h-1z"/><path d="M428 50h3v3h-3z"/><path d="M430 51h1v2h-1z"/><path d="M429 51h3v3h-3z"/><path d="M431 52h1v3h-1z"/><path d="M430 52h3v3h-3z"/><path d="M432 53h1v4h-1z"/><path d="M431 54h3v3h-3z"/><path d="M433 53h1v5h-1z"/><path d="M432 54h3v3h-3z"/><path d="M433 55h1v1h-1z" fill="#fff"/><path d="M434 52h1v7h-1z"/><path d="M433 52h3v3h-3z"/><path d="M434 53h1v1h-1z" fill="#fff"/><path d="M435 51h1v3h-1z"/><path d="M434 51h3v3h-3z"/><path d="M435 52h1v1h-1z" fill="#fff"/><path d="M436 47h1v5h-1z"/><path d="M435 50h3v3h-3z"/><path d="M436 51h1v1h-1z" fill="#fff"/><path d="M437 49h1v2h-1z"/><path d="M436 49h3v3h-3z"/><path d="M437 50h1v1h-1z" fill="#fff"/><path d="M438 49h1v2h-1z"/><path d="M437 48h3v3h-3z"/><path d="M438 49h1v1h-1z" fill="#fff"/><path d="M439 48h1v2h-1z"/><path d="M438 48h3v3h-3z"/><path d="M439 49h1v1h-1z" fill="#fff"/><path d="M440 47h1v3h-1z"/><path d="M439 47h3v3h-3z"/><path d="M440 47h1v2h-1z"/><path d="M439 47h3v3h-3z"/><path d="M441 46h1v3h-1z"/><path d="M440 47h3v3h-3z"/><path d="M441 48h1v1h-1z" fill="#fff"/><path d="M442 47h1v1h-1z"/><path d="M441 46h3v3h-3z"/><path d="M443 47h1v2h-1z"/><path d="M442 46h3v3h-3z"/><path d="M444 47h1v2h-1z"/><path d="M443 47h3v3h-3z"/><path d="M445 48h1v3h-1z"/><path d="M444 47h3v3h-3z"/><path d="M446 48h1v2h-1z"/><path d="M445 48h3v3h-3z"/><path d="M447 48h1v3h-1z"/><path d="M446 48h3v3h-3z"/><path d="M448 49h1v3h-1z"/><path d="M447 49h3v3h-3z"/><path d="M448 50h1v1h-1z" fill="#fff"/><path d="M449 47h1v8h-1z"/><path d="M448 49h3v3h-3z"/><path d="M450 50h1v3h-1z"/><path d="M449 50h3v3h-3z"/><path d="M450 51h1v1h-1z" fill="#fff"/><path d="M451 51h1v4h-1z"/><path d="M450 52h3v3h-3z"/><path d="M452 54h1v5h-1z"/><path d="M451 55h3v3h-3z"/><path d="M452 57h1v4h-1z"/><path d="M451 57h3v3h-3z"/><path d="M452 58h1v1h-1z" fill="#fff"/><path d="M453 53h1v6h-1z"/><path d="M452 57h3v3h-3z"/><path d="M453 58h1v1h-1z" fill="#fff"/><path d="M454 54h1v4h-1z"/><path d="M453 54h3v3h-3z"/><path d="M454 55h1v1h-1z" fill="#fff"/><path d="M455 53h1v3h-1z"/><path d="M454 54h3v3h-3z"/><path d="M456 53h1v4h-1z"/><path d="M455 54h3v3h-3z"/><path d="M457 54h1v4h-1z"/><path d="M456 55h3v3h-3z"/><path d="M458 55h1v5h-1z"/><path d="M457 56h3v3h-3z"/><path d="M459 57h1v5h-1z"/><path d="M458 58h3v3h-3z"/><path d="M460 58h1v5h-1z"/><path d="M459 59h3v3h-3z"/><path d="M461 59h1v4h-1z"/><path d="M460 59h3v3h-3z"/><path d="M462 59h1v5h-1z"/><path d="M461 59h3v3h-3z"/><path d="M462 60h1v1h-1z" fill="#fff"/><path d="M463 58h1v5h-1z"/><path d="M462 58h3v3h-3z"/><path d="M463 59h1v1h-1z" fill="#fff"/><path d="M464 57h1v4h-1z"/><path d="M463 57h3v3h-3z"/><path d="M464 58h1v1h-1z" fill="#fff"/><path d="M464 56h1v4h-1z"/><path d="M463 57h3v3h-3z"/><path d="M464 58h1v1h-1z" fill="#fff"/><path d="M465 56h1v4h-1z"/><path d="M464 56h3v3h-3z"/><path d="M465 57h1v1h-1z" fill="#fff"/><path d="M466 57h1v2h-1z"/><path d="M465 56h3v3h-3z"/><path d="M467 57h1v3h-1z"/><path d="M466 56h3v3h-3z"/><path d="M467 57h1v1h-1z" fill="#fff"/><path d="M468 53h1v5h-1z"/><path d="M467 55h3v3h-3z"/><path d="M468 56h1v1h-1z" fill="#fff"/><path d="M469 53h1v2h-1z"/><path d="M468 53h3v3h-3z"/><path d="M469 54h1v1h-1z" fill="#fff"/><path d="M470 52h1v1h-1z"/><path d="M469 51h3v3h-3z"/><path d="M470 52h1v1h-1z" fill="#fff"/><path d="M471 47h1v5h-1z"/><path d="M470 49h3v3h-3z"/><path d="M471 50h1v1h-1z" fill="#fff"/><path d="M472 44h1v6h-1z"/><path d="M471 47h3v3h-3z"/><path d="M472 48h1v1h-1z" fill="#fff"/><path d="M473 46h1v5h-1z"/><path d="M472 46h3v3h-3z"/><path d="M473 47h1v1h-1z" fill="#fff"/><path d="M474 45h1v2h-1z"/><path d="M473 44h3v3h-3z"/><path d="M474 45h1v1h-1z" fill="#fff"/><path d="M475 44h1v2h-1z"/><path d="M474 43h3v3h-3z"/><path d="M475 44h1v1h-1z" fill="#fff"/><path d="M476 43h1v2h-1z"/><path d="M475 42h3v3h-3z"/><path d="M476 43h1v1h-1z" fill="#fff"/><path d="M476 43h1v1h-1z"/><path d="M475 42h3v3h-3z"/><path d="M476 43h1v1h-1z" fill="#fff"/><path d="M477 39h1v4h-1z"/><path d="M476 41h3v3h-3z"/><path d="M477 42h1v1h-1z" fill="#fff"/><path d="M478 41h1v2h-1z"/><path d="M477 40h3v3h-3z"/><path d="M478 41h1v1h-1z" fill="#fff"/><path d="M479 39h1v3h-1z"/><path d="M478 39h3v3h-3z"/><path d="M479 40h1v1h-1z" fill="#fff"/><path d="M480 38h1v3h-1z"/><path d="M479 38h3v3h-3z"/><path d="M480 39h1v1h-1z" fill="#fff"/><path d="M481 37h1v3h-1z"/><path d="M480 37h3v3h-3z"/><path d="M481 38h1v1h-1z" fill="#fff"/><path d="M482 36h1v2h-1z"/><path d="M481 36h3v3h-3z"/><path d="M482 37h1v1h-1z" fill="#fff"/><path d="M483 35h1v2h-1z"/><path d="M482 34h3v3h-3z"/><path d="M483 35h1v1h-1z" fill="#fff"/><path d="M484 34h1v2h-1z"/><path d="M483 34h3v3h-3z"/><path d="M484 35h1v1h-1z" fill="#fff"/><path d="M485 32h1v4h-1z"/><path d="M484 34h3v3h-3z"/><path d="M486 34h1v5h-1z"/><path d="M485 34h3v3h-3z"/><path d="M487 35h1v2h-1z"/><path d="M486 34h3v3h-3z"/><path d="M488 36h1v2h-1z"/><path d="M487 35h3v3h-3z"/><path d="M488 35h1v1h-1z"/><path d="M487 34h3v3h-3z"/><path d="M488 35h1v1h-1z" fill="#fff"/><path d="M489 35h1v1h-1z"/><path d="M488 34h3v3h-3z"/><path d="M489 35h1v1h-1z" fill="#fff"/><path d="M490 34h1v2h-1z"/><path d="M489 33h3v3h-3z"/><path d="M490 34h1v1h-1z" fill="#fff"/><path d="M491 34h1v1h-1z"/><path d="M490 33h3v3h-3z"/><path d="M491 34h1v1h-1z" fill="#fff"/><path d="M492 33h1v1h-1z"/><path d="M491 32h3v3h-3z"/><path d="M492 33h1v1h-1z" fill="#fff"/><path d="M493 33h1v1h-1z"/><path d="M492 32h3v3h-3z"/><path d="M493 33h1v1h-1z" fill="#fff"/><path d="M494 32h1v2h-1z"/><path d="M493 32h3v3h-3z"/><path d="M495 33h1v3h-1z"/><path d="M494 33h3v3h-3z"/><path d="M496 34h1v3h-1z"/><path d="M495 34h3v3h-3z"/><path d="M497 35h1v5h-1z"/><path d="M496 36h3v3h-3z"/><path d="M498 37h1v5h-1z"/><path d="M497 37h3v3h-3z"/><path d="M499 38h1v9h-1z"/><path d="M498 39h3v3h-3z"/><path d="M500 38h1v8h-1z"/><path d="M499 41h3v3h-3z"/><path d="M500 42h1v1h-1z" fill="#fff"/><path d="M500 37h1v7h-1z"/><path d="M499 39h3v3h-3z"/><path d="M500 40h1v1h-1z" fill="#fff"/><path d="M501 36h1v7h-1z"/><path d="M500 38h3v3h-3z"/><path d="M501 39h1v1h-1z" fill="#fff"/><path d="M502 35h1v6h-1z"/><path d="M501 37h3v3h-3z"/><path d="M502 38h1v1h-1z" fill="#fff"/><path d="M503 34h1v8h-1z"/><path d="M502 36h3v3h-3z"/><path d="M504 34h1v4h-1z"/><path d="M503 34h3v3h-3z"/><path d="M504 35h1v1h-1z" fill="#fff"/><path d="M505 34h1v3h-1z"/><path d="M504 34h3v3h-3z"/><path d="M505 35h1v1h-1z" fill="#fff"/><path d="M506 33h1v2h-1z"/><path d="M505 33h3v3h-3z"/><path d="M506 34h1v1h-1z" fill="#fff"/><path d="M507 33h1v2h-1z"/><path d="M506 33h3v3h-3z"/><path d="M507 34h1v1h-1z" fill="#fff"/><path d="M508 33h1v4h-1z"/><path d="M507 33h3v3h-3z"/><path d="M508 34h1v1h-1z" fill="#fff"/><path d="M509 32h1v8h-1z"/><path d="M508 34h3v3h-3z"/><path d="M510 32h1v7h-1z"/><path d="M509 35h3v3h-3z"/><path d="M511 37h1v5h-1z"/><path d="M510 38h3v3h-3z"/><path d="M512 40h1v3h-1z"/><path d="M511 39h3v3h-3z"/><path d="M512 40h1v1h-1z" fill="#fff"/><path d="M512 36h1v5h-1z"/><path d="M511 36h3v4h-3z"/><path d="M512 37h1v2h-1z" fill="#fff"/><path d="M513 31h1v8h-1z"/><path d="M512 35h3v3h-3z"/><path d="M513 36h1v1h-1z" fill="#fff"/><path d="M514 30h1v5h-1z"/><path d="M513 31h3v3h-3z"/><path d="M514 32h1v1h-1z" fill="#fff"/><path d="M515 28h1v3h-1z"/><path d="M514 28h3v3h-3z"/><path d="M515 29h1v1h-1z" fill="#fff"/><path d="M516 27h1v3h-1z"/><path d="M515 27h3v3h-3z"/><path d="M516 28h1v1h-1z" fill="#fff"/><path d="M517 27h1v1h-1z"/><path d="M516 26h3v3h-3z"/><path d="M517 27h1v1h-1z" fill="#fff"/><path d="M518 27h1v3h-1z"/><path d="M517 26h3v3h-3z"/><path d="M518 27h1v1h-1z" fill="#fff"/><path d="M519 27h1v1h-1z"/><path d="M518 26h3v3h-3z"/><path d="M519 27h1v1h-1z" fill="#fff"/><path d="M520 26h1v2h-1z"/><path d="M519 26h3v3h-3z"/><path d="M521 26h1v3h-1z"/><path d="M520 26h3v3h-3z"/><path d="M522 27h1v4h-1z"/><path d="M521 28h3v3h-3z"/><path d="M523 28h1v5h-1z"/><path d="M522 29h3v3h-3z"/><path d="M524 29h1v5h-1z"/><path d="M523 29h3v3h-3z"/><path d="M524 29h1v6h-1z"/><path d="M523 30h3v3h-3z"/><path d="M525 30h1v6h-1z"/><path d="M524 31h3v3h-3z"/><path d="M526 31h1v5h-1z"/><path d="M525 32h3v3h-3z"/><path d="M527 33h1v6h-1z"/><path d="M526 35h3v3h-3z"/><path d="M528 34h1v9h-1z"/><path d="M527 37h3v3h-3z"/><path d="M529 34h1v10h-1z"/><path d="M528 39h3v4h-3z"/><path d="M530 40h1v8h-1z"/><path d="M529 43h3v3h-3z"/><path d="M531 43h1v9h-1z"/><path d="M530 46h3v3h-3z"/><path d="M532 46h1v11h-1z"/><path d="M531 50h3v5h-3z"/><path d="M533 48h1v15h-1z"/><path d="M532 54h3v3h-3z"/><path d="M534 50h1v16h-1z"/><path d="M533 58h3v3h-3z"/><path d="M535 50h1v14h-1z"/><path d="M534 55h3v3h-3z"/><path d="M536 47h1v15h-1z"/><path d="M535 52h3v6h-3z"/><path d="M536 53h1v4h-1z" fill="#fff"/><path d="M536 42h1v16h-1z"/><path d="M535 48h3v6h-3z"/><path d="M536 49h1v4h-1z" fill="#fff"/><path d="M537 44h1v10h-1z"/><path d="M536 48h3v3h-3z"/><path d="M537 49h1v1h-1z" fill="#fff"/><path d="M538 42h1v8h-1z"/><path d="M537 44h3v3h-3z"/><path d="M538 45h1v1h-1z" fill="#fff"/><path d="M539 42h1v6h-1z"/><path d="M538 43h3v3h-3z"/><path d="M540 43h1v5h-1z"/><path d="M539 45h3v3h-3z"/><path d="M541 44h1v4h-1z"/><path d="M540 45h3v3h-3z"/><path d="M542 45h1v3h-1z"/><path d="M541 45h3v3h-3z"/><path d="M543 42h1v6h-1z"/><path d="M542 44h3v3h-3z"/><path d="M543 45h1v1h-1z" fill="#fff"/><path d="M544 41h1v7h-1z"/><path d="M543 44h3v3h-3z"/><path d="M545 43h1v7h-1z"/><path d="M544 45h3v3h-3z"/><path d="M546 45h1v6h-1z"/><path d="M545 46h3v4h-3z"/><path d="M547 47h1v6h-1z"/><path d="M546 48h3v3h-3z"/><path d="M548 48h1v7h-1z"/><path d="M547 50h3v3h-3z"/><path d="M548 51h1v1h-1z" fill="#fff"/><path d="M548 49h1v7h-1z"/><path d="M547 52h3v3h-3z"/><path d="M549 49h1v9h-1z"/><path d="M548 53h3v4h-3z"/><path d="M550 52h1v15h-1z"/><path d="M549 56h3v6h-3z"/><path d="M551 55h1v18h-1z"/><path d="M550 59h3v3h-3z"/><path d="M552 56h1v19h-1z"/><path d="M551 64h3v3h-3z"/><path d="M553 53h1v18h-1z"/><path d="M552 61h3v5h-3z"/><path d="M553 62h1v3h-1z" fill="#fff"/><path d="M554 55h1v12h-1z"/><path d="M553 59h3v3h-3z"/><path d="M554 60h1v1h-1z" fill="#fff"/><path d="M555 55h1v7h-1z"/><path d="M554 58h3v3h-3z"/><path d="M555 59h1v1h-1z" fill="#fff"/><path d="M556 52h1v11h-1z"/><path d="M555 57h3v3h-3z"/><path d="M557 54h1v8h-1z"/><path d="M556 56h3v3h-3z"/><path d="M558 54h1v9h-1z"/><path d="M557 58h3v3h-3z"/><path d="M559 57h1v9h-1z"/><path d="M558 59h3v6h-3z"/><path d="M560 61h1v8h-1z"/><path d="M559 63h3v3h-3z"/><path d="M560 63h1v8h-1z"/><path d="M559 65h3v3h-3z"/><path d="M561 63h1v8h-1z"/><path d="M560 64h3v3h-3z"/><path d="M562 63h1v8h-1z"/><path d="M561 65h3v3h-3z"/><path d="M562 66h1v1h-1z" fill="#fff"/><path d="M563 63h1v8h-1z"/><path d="M562 65h3v3h-3z"/><path d="M563 66h1v1h-1z" fill="#fff"/><path d="M564 62h1v10h-1z"/><path d="M563 64h3v3h-3z"/><path d="M564 65h1v1h-1z" fill="#fff"/><path d="M565 60h1v8h-1z"/><path d="M564 62h3v3h-3z"/><path d="M565 63h1v1h-1z" fill="#fff"/><path d="M566 54h1v12h-1z"/><path d="M565 60h3v3h-3z"/><path d="M566 61h1v1h-1z" fill="#fff"/><path d="M567 54h1v8h-1z"/><path d="M566 55h3v5h-3z"/><path d="M567 56h1v3h-1z" fill="#fff"/><path d="M568 50h1v9h-1z"/><path d="M567 53h3v4h-3z"/><path d="M568 54h1v2h-1z" fill="#fff"/><path d="M569 48h1v8h-1z"/><path d="M568 49h3v4h-3z"/><path d="M569 50h1v2h-1z" fill="#fff"/><path d="M570 46h1v7h-1z"/><path d="M569 47h3v3h-3z"/><path d="M570 48h1v1h-1z" fill="#fff"/><path d="M571 43h1v7h-1z"/><path d="M570 46h3v3h-3z"/><path d="M571 47h1v1h-1z" fill="#fff"/><path d="M572 42h1v7h-1z"/><path d="M571 43h3v3h-3z"/><path d="M572 44h1v1h-1z" fill="#fff"/><path d="M572 40h1v6h-1z"/><path d="M571 42h3v3h-3z"/><path d="M572 43h1v1h-1z" fill="#fff"/><path d="M573 38h1v7h-1z"/><path d="M572 41h3v3h-3z"/><path d="M573 42h1v1h-1z" fill="#fff"/><path d="M574 37h1v9h-1z"/><path d="M573 38h3v3h-3z"/><path d="M574 39h1v1h-1z" fill="#fff"/><path d="M575 38h1v5h-1z"/><path d="M574 39h3v3h-3z"/><path d="M575 40h1v1h-1z" fill="#fff"/><path d="M576 38h1v8h-1z"/><path d="M575 39h3v3h-3z"/><path d="M576 40h1v1h-1z" fill="#fff"/><path d="M577 39h1v4h-1z"/><path d="M576 41h3v3h-3z"/><path d="M578 40h1v4h-1z"/><path d="M577 41h3v3h-3z"/><path d="M579 42h1v4h-1z"/><path d="M578 43h3v3h-3z"/><path d="M580 44h1v3h-1z"/><path d="M579 44h3v3h-3z"/><path d="M581 46h1v3h-1z"/><path d="M580 46h3v3h-3z"/><path d="M582 45h1v6h-1z"/><path d="M581 47h3v3h-3z"/><path d="M583 49h1v3h-1z"/><path d="M582 50h3v3h-3z"/><path d="M583 50h1v4h-1z"/><path d="M582 50h3v3h-3z"/><path d="M584 50h1v4h-1z"/><path d="M583 50h3v3h-3z"/><path d="M584 51h1v1h-1z" fill="#fff"/><path d="M585 48h1v7h-1z"/><path d="M584 51h3v3h-3z"/><path d="M586 48h1v8h-1z"/><path d="M585 50h3v3h-3z"/><path d="M586 51h1v1h-1z" fill="#fff"/><path d="M587 48h1v7h-1z"/><path d="M586 50h3v3h-3z"/><path d="M587 51h1v1h-1z" fill="#fff"/><path d="M588 47h1v8h-1z"/><path d="M587 50h3v3h-3z"/><path d="M589 50h1v8h-1z"/><path d="M588 53h3v4h-3z"/><path d="M590 50h1v11h-1z"/><path d="M589 54h3v4h-3z"/><path d="M591 57h1v8h-1z"/><path d="M590 59h3v3h-3z"/><path d="M592 59h1v8h-1z"/><path d="M591 60h3v5h-3z"/><path d="M593 61h1v9h-1z"/><path d="M592 64h3v3h-3z"/><path d="M594 63h1v9h-1z"/><path d="M593 67h3v3h-3z"/><path d="M595 64h1v11h-1z"/><path d="M594 68h3v3h-3z"/><path d="M595 69h1v1h-1z" fill="#fff"/><path d="M595 64h1v13h-1z"/><path d="M594 68h3v3h-3z"/><path d="M596 63h1v12h-1z"/><path d="M595 69h3v3h-3z"/><path d="M596 70h1v1h-1z" fill="#fff"/><path d="M597 62h1v11h-1z"/><path d="M596 66h3v3h-3z"/><path d="M598 66h1v7h-1z"/><path d="M597 69h3v3h-3z"/><path d="M599 71h1v6h-1z"/><path d="M598 72h3v4h-3z"/><path d="M600 76h1v6h-1z"/><path d="M599 77h3v4h-3z"/><path d="M601 79h1v8h-1z"/><path d="M600 81h3v3h-3z"/><path d="M602 81h1v10h-1z"/><path d="M601 83h3v4h-3z"/><path d="M603 82h1v11h-1z"/><path d="M602 86h3v3h-3z"/><path d="M604 81h1v11h-1z"/><path d="M603 85h3v3h-3z"/><path d="M605 78h1v10h-1z"/><path d="M604 83h3v3h-3z"/><path d="M605 84h1v1h-1z" fill="#fff"/><path d="M606 78h1v9h-1z"/><path d="M605 80h3v3h-3z"/><path d="M606 81h1v1h-1z" fill="#fff"/><path d="M607 78h1v9h-1z"/><path d="M606 82h3v3h-3z"/><path d="M607 80h1v13h-1z"/><path d="M606 84h3v4h-3z"/><path d="M608 82h1v17h-1z"/><path d="M607 88h3v3h-3z"/><path d="M608 89h1v1h-1z" fill="#fff"/><path d="M609 81h1v15h-1z"/><path d="M608 86h3v3h-3z"/><path d="M609 87h1v1h-1z" fill="#fff"/><path d="M610 81h1v12h-1z"/><path d="M609 84h3v3h-3z"/><path d="M610 85h1v1h-1z" fill="#fff"/><path d="M611 80h1v13h-1z"/><path d="M610 82h3v3h-3z"/><path d="M611 83h1v1h-1z" fill="#fff"/><path d="M612 77h1v7h-1z"/><path d="M611 77h3v5h-3z"/><path d="M612 78h1v3h-1z" fill="#fff"/><path d="M613 72h1v7h-1z"/><path d="M612 75h3v3h-3z"/><path d="M613 76h1v1h-1z" fill="#fff"/><path d="M614 71h1v5h-1z"/><path d="M613 72h3v3h-3z"/><path d="M614 73h1v1h-1z" fill="#fff"/><path d="M615 71h1v5h-1z"/><path d="M614 72h3v3h-3z"/><path d="M615 73h1v1h-1z" fill="#fff"/><path d="M616 71h1v5h-1z"/><path d="M615 72h3v3h-3z"/><path d="M616 73h1v1h-1z" fill="#fff"/><path d="M617 70h1v7h-1z"/><path d="M616 71h3v3h-3z"/><path d="M617 72h1v1h-1z" fill="#fff"/><path d="M618 71h1v7h-1z"/><path d="M617 72h3v3h-3z"/><path d="M619 72h1v7h-1z"/><path d="M618 73h3v3h-3z"/><path d="M619 72h1v8h-1z"/><path d="M618 75h3v3h-3z"/><path d="M620 78h1v11h-1z"/><path d="M619 80h3v8h-3z"/><path d="M621 89h1v10h-1z"/><path d="M620 89h3v10h-3z"/><path d="M622 99h1v8h-1z"/><path d="M621 100h3v4h-3z"/><path d="M623 102h1v10h-1z"/><path d="M622 103h3v3h-3z"/><path d="M624 101h1v10h-1z"/><path d="M623 107h3v3h-3z"/><path d="M625 105h1v8h-1z"/><path d="M624 107h3v3h-3z"/><path d="M626 104h1v8h-1z"/><path d="M625 107h3v3h-3z"/><path d="M626 108h1v1h-1z" fill="#fff"/><path d="M627 101h1v8h-1z"/><path d="M626 105h3v3h-3z"/><path d="M627 106h1v1h-1z" fill="#fff"/><path d="M628 101h1v6h-1z"/><path d="M627 103h3v3h-3z"/><path d="M628 104h1v1h-1z" fill="#fff"/><path d="M629 99h1v5h-1z"/><path d="M628 100h3v3h-3z"/><path d="M629 101h1v1h-1z" fill="#fff"/><path d="M630 95h1v6h-1z"/><path d="M629 97h3v3h-3z"/><path d="M630 98h1v1h-1z" fill="#fff"/><path d="M631 91h1v9h-1z"/><path d="M630 95h3v3h-3z"/><path d="M631 96h1v1h-1z" fill="#fff"/><path d="M631 90h1v10h-1z"/><path d="M630 94h3v3h-3z"/><path d="M632 90h1v12h-1z"/><path d="M631 94h3v4h-3z"/><path d="M633 93h1v10h-1z"/><path d="M632 96h3v3h-3z"/><path d="M634 96h1v8h-1z"/><path d="M633 98h3v3h-3z"/><path d="M635 96h1v6h-1z"/><path d="M634 97h3v3h-3z"/><path d="M635 98h1v1h-1z" fill="#fff"/><path d="M636 93h1v7h-1z"/><path d="M635 95h3v4h-3z"/><path d="M636 96h1v2h-1z" fill="#fff"/><path d="M637 92h1v7h-1z"/><path d="M636 94h3v3h-3z"/><path d="M637 95h1v1h-1z" fill="#fff"/><path d="M638 92h1v6h-1z"/><path d="M637 95h3v3h-3z"/><path d="M639 94h1v5h-1z"/><path d="M638 95h3v3h-3z"/><path d="M640 95h1v6h-1z"/><path d="M639 97h3v3h-3z"/><path d="M641 97h1v9h-1z"/><path d="M640 99h3v3h-3z"/><path d="M642 99h1v6h-1z"/><path d="M641 99h3v3h-3z"/><path d="M642 100h1v1h-1z" fill="#fff"/><path d="M643 96h1v7h-1z"/><path d="M642 97h3v4h-3z"/><path d="M643 98h1v2h-1z" fill="#fff"/><path d="M643 92h1v6h-1z"/><path d="M642 94h3v3h-3z"/><path d="M643 95h1v1h-1z" fill="#fff"/><path d="M644 89h1v6h-1z"/><path d="M643 91h3v3h-3z"/><path d="M644 92h1v1h-1z" fill="#fff"/><path d="M645 87h1v5h-1z"/><path d="M644 87h3v3h-3z"/><path d="M645 88h1v1h-1z" fill="#fff"/><path d="M646 84h1v5h-1z"/><path d="M645 85h3v3h-3z"/><path d="M646 86h1v1h-1z" fill="#fff"/><path d="M647 81h1v8h-1z"/><path d="M646 85h3v3h-3z"/><path d="M647 86h1v1h-1z" fill="#fff"/><path d="M648 83h1v6h-1z"/><path d="M647 84h3v3h-3z"/><path d="M648 85h1v1h-1z" fill="#fff"/><path d="M649 83h1v6h-1z"/><path d="M648 84h3v3h-3z"/><path d="M649 85h1v1h-1z" fill="#fff"/><path d="M650 79h1v9h-1z"/><path d="M649 80h3v4h-3z"/><path d="M650 81h1v2h-1z" fill="#fff"/><path d="M651 75h1v8h-1z"/><path d="M650 77h3v4h-3z"/><path d="M651 78h1v2h-1z" fill="#fff"/><path d="M652 73h1v8h-1z"/><path d="M651 75h3v3h-3z"/><path d="M652 76h1v1h-1z" fill="#fff"/><path d="M653 72h1v7h-1z"/><path d="M652 73h3v3h-3z"/><path d="M653 74h1v1h-1z" fill="#fff"/><path d="M654 72h1v6h-1z"/><path d="M653 72h3v3h-3z"/><path d="M654 73h1v1h-1z" fill="#fff"/><path d="M655 69h1v7h-1z"/><path d="M654 72h3v3h-3z"/><path d="M655 73h1v1h-1z" fill="#fff"/><path d="M655 70h1v5h-1z"/><path d="M654 71h3v3h-3z"/><path d="M655 72h1v1h-1z" fill="#fff"/><path d="M656 69h1v7h-1z"/><path d="M655 71h3v3h-3z"/><path d="M656 72h1v1h-1z" fill="#fff"/><path d="M657 68h1v5h-1z"/><path d="M656 70h3v3h-3z"/><path d="M657 71h1v1h-1z" fill="#fff"/><path d="M658 67h1v5h-1z"/><path d="M657 68h3v3h-3z"/><path d="M658 69h1v1h-1z" fill="#fff"/><path d="M659 65h1v5h-1z"/><path d="M658 66h3v3h-3z"/><path d="M659 67h1v1h-1z" fill="#fff"/><path d="M660 61h1v10h-1z"/><path d="M659 64h3v3h-3z"/><path d="M660 65h1v1h-1z" fill="#fff"/><path d="M661 62h1v4h-1z"/><path d="M660 62h3v3h-3z"/><path d="M661 63h1v1h-1z" fill="#fff"/><path d="M662 60h1v4h-1z"/><path d="M661 61h3v3h-3z"/><path d="M662 62h1v1h-1z" fill="#fff"/><path d="M663 61h1v3h-1z"/><path d="M662 61h3v3h-3z"/><path d="M663 62h1v1h-1z" fill="#fff"/><path d="M664 58h1v5h-1z"/><path d="M663 60h3v3h-3z"/><path d="M664 61h1v1h-1z" fill="#fff"/><path d="M665 61h1v2h-1z"/><path d="M664 61h3v3h-3z"/><path d="M666 62h1v6h-1z"/><path d="M665 62h3v3h-3z"/><path d="M667 63h1v5h-1z"/><path d="M666 64h3v3h-3z"/><path d="M667 65h1v6h-1z"/><path d="M666 66h3v3h-3z"/><path d="M668 66h1v9h-1z"/><path d="M667 71h3v3h-3z"/><path d="M669 69h1v9h-1z"/><path d="M668 71h3v3h-3z"/><path d="M670 72h1v9h-1z"/><path d="M669 75h3v3h-3z"/><path d="M671 74h1v10h-1z"/><path d="M670 77h3v4h-3z"/><path d="M672 79h1v8h-1z"/><path d="M671 81h3v3h-3z"/><path d="M673 81h1v7h-1z"/><path d="M672 82h3v3h-3z"/><path d="M674 82h1v7h-1z"/><path d="M673 84h3v3h-3z"/><path d="M674 85h1v1h-1z" fill="#fff"/><path d="M675 83h1v6h-1z"/><path d="M674 85h3v3h-3z"/><path d="M676 84h1v6h-1z"/><path d="M675 84h3v3h-3z"/><path d="M676 85h1v1h-1z" fill="#fff"/><path d="M677 83h1v6h-1z"/><path d="M676 85h3v3h-3z"/><path d="M677 86h1v1h-1z" fill="#fff"/><path d="M678 81h1v7h-1z"/><path d="M677 84h3v3h-3z"/><path d="M678 85h1v1h-1z" fill="#fff"/><path d="M679 80h1v7h-1z"/><path d="M678 81h3v3h-3z"/><path d="M679 82h1v1h-1z" fill="#fff"/><path d="M679 77h1v4h-1z"/><path d="M678 77h3v4h-3z"/><path d="M679 78h1v2h-1z" fill="#fff"/><path d="M680 76h1v5h-1z"/><path d="M679 78h3v3h-3z"/><path d="M681 80h1v9h-1z"/><path d="M680 80h3v8h-3z"/><path d="M682 83h1v10h-1z"/><path d="M681 88h3v4h-3z"/><path d="M683 89h1v5h-1z"/><path d="M682 90h3v3h-3z"/><path d="M684 91h1v5h-1z"/><path d="M683 92h3v3h-3z"/><path d="M685 92h1v7h-1z"/><path d="M684 94h3v3h-3z"/><path d="M686 94h1v7h-1z"/><path d="M685 97h3v3h-3z"/><path d="M687 96h1v9h-1z"/><path d="M686 98h3v5h-3z"/><path d="M688 99h1v9h-1z"/><path d="M687 101h3v4h-3z"/><path d="M689 104h1v7h-1z"/><path d="M688 105h3v5h-3z"/><path d="M690 107h1v7h-1z"/><path d="M689 109h3v3h-3z"/><path d="M691 107h1v9h-1z"/><path d="M690 110h3v3h-3z"/><path d="M691 111h1v1h-1z" fill="#fff"/><path d="M691 107h1v10h-1z"/><path d="M690 109h3v3h-3z"/><path d="M692 105h1v9h-1z"/><path d="M691 109h3v3h-3z"/><path d="M692 110h1v1h-1z" fill="#fff"/><path d="M693 103h1v8h-1z"/><path d="M692 105h3v3h-3z"/><path d="M693 106h1v1h-1z" fill="#fff"/><path d="M694 101h1v7h-1z"/><path d="M693 104h3v3h-3z"/><path d="M695 102h1v8h-1z"/><path d="M694 104h3v3h-3z"/><path d="M696 105h1v8h-1z"/><path d="M695 107h3v3h-3z"/><path d="M697 107h1v9h-1z"/><path d="M696 110h3v4h-3z"/><path d="M698 109h1v10h-1z"/><path d="M697 114h3v3h-3z"/><path d="M699 111h1v10h-1z"/><path d="M698 114h3v3h-3z"/><path d="M700 113h1v10h-1z"/><path d="M699 117h3v3h-3z"/><path d="M701 114h1v11h-1z"/><path d="M700 116h3v3h-3z"/><path d="M701 117h1v1h-1z" fill="#fff"/><path d="M702 111h1v11h-1z"/><path d="M701 115h3v4h-3z"/><path d="M702 116h1v2h-1z" fill="#fff"/><path d="M703 109h1v10h-1z"/><path d="M702 112h3v5h-3z"/><path d="M703 113h1v3h-1z" fill="#fff"/><path d="M703 107h1v10h-1z"/><path d="M702 109h3v3h-3z"/><path d="M703 110h1v1h-1z" fill="#fff"/><path d="M704 105h1v10h-1z"/><path d="M703 108h3v3h-3z"/><path d="M704 109h1v1h-1z" fill="#fff"/><path d="M705 103h1v9h-1z"/><path d="M704 105h3v3h-3z"/><path d="M705 106h1v1h-1z" fill="#fff"/><path d="M706 100h1v8h-1z"/><path d="M705 102h3v4h-3z"/><path d="M706 103h1v2h-1z" fill="#fff"/><path d="M707 96h1v6h-1z"/><path d="M706 97h3v4h-3z"/><path d="M707 98h1v2h-1z" fill="#fff"/><path d="M708 93h1v6h-1z"/><path d="M707 94h3v3h-3z"/><path d="M708 95h1v1h-1z" fill="#fff"/><path d="M709 92h1v6h-1z"/><path d="M708 93h3v3h-3z"/><path d="M709 94h1v1h-1z" fill="#fff"/><path d="M710 88h1v9h-1z"/><path d="M709 93h3v3h-3z"/><path d="M711 90h1v8h-1z"/><path d="M710 92h3v3h-3z"/><path d="M712 87h1v13h-1z"/><path d="M711 94h3v3h-3z"/><path d="M712 95h1v1h-1z" fill="#fff"/><path d="M713 90h1v11h-1z"/><path d="M712 95h3v3h-3z"/><path d="M714 92h1v11h-1z"/><path d="M713 97h3v3h-3z"/><path d="M715 94h1v11h-1z"/><path d="M714 97h3v3h-3z"/><path d="M715 96h1v10h-1z"/><path d="M714 99h3v3h-3z"/><path d="M716 97h1v10h-1z"/><path d="M715 100h3v3h-3z"/><path d="M717 96h1v7h-1z"/><path d="M716 97h3v3h-3z"/><path d="M717 98h1v1h-1z" fill="#fff"/><path d="M718 90h1v7h-1z"/><path d="M717 91h3v6h-3z"/><path d="M718 92h1v4h-1z" fill="#fff"/><path d="M719 84h1v7h-1z"/><path d="M718 86h3v5h-3z"/><path d="M719 87h1v3h-1z" fill="#fff"/><path d="M720 83h1v5h-1z"/><path d="M719 84h3v3h-3z"/><path d="M720 85h1v1h-1z" fill="#fff"/><path d="M721 82h1v4h-1z"/><path d="M720 82h3v3h-3z"/><path d="M721 83h1v1h-1z" fill="#fff"/><path d="M722 82h1v3h-1z"/><path d="M721 83h3v3h-3z"/><path d="M722 84h1v1h-1z" fill="#fff"/><path d="M723 80h1v7h-1z"/><path d="M722 83h3v3h-3z"/><path d="M724 84h1v7h-1z"/><path d="M723 85h3v3h-3z"/><path d="M725 84h1v4h-1z"/><path d="M724 84h3v3h-3z"/><path d="M725 85h1v1h-1z" fill="#fff"/><path d="M726 83h1v4h-1z"/><path d="M725 83h3v3h-3z"/><path d="M726 84h1v1h-1z" fill="#fff"/><path d="M727 82h1v4h-1z"/><path d="M726 82h3v3h-3z"/><path d="M727 83h1v1h-1z" fill="#fff"/><path d="M727 81h1v4h-1z"/><path d="M726 82h3v3h-3z"/><path d="M727 83h1v1h-1z" fill="#fff"/><path d="M728 77h1v8h-1z"/><path d="M727 81h3v3h-3z"/><path d="M728 82h1v1h-1z" fill="#fff"/><path d="M729 78h1v6h-1z"/><path d="M728 80h3v3h-3z"/><path d="M729 81h1v1h-1z" fill="#fff"/><path d="M730 77h1v10h-1z"/><path d="M729 79h3v3h-3z"/><path d="M730 80h1v1h-1z" fill="#fff"/><path d="M731 76h1v8h-1z"/><path d="M730 78h3v3h-3z"/><path d="M731 79h1v1h-1z" fill="#fff"/><path d="M732 76h1v8h-1z"/><path d="M731 79h3v3h-3z"/><path d="M732 80h1v1h-1z" fill="#fff"/><path d="M733 77h1v8h-1z"/><path d="M732 79h3v3h-3z"/><path d="M734 78h1v7h-1z"/><path d="M733 81h3v3h-3z"/><path d="M735 79h1v7h-1z"/><path d="M734 81h3v3h-3z"/><path d="M735 82h1v1h-1z" fill="#fff"/><path d="M736 80h1v6h-1z"/><path d="M735 81h3v3h-3z"/><path d="M737 78h1v11h-1z"/><path d="M736 82h3v3h-3z"/><path d="M737 83h1v1h-1z" fill="#fff"/><path d="M738 78h1v11h-1z"/><path d="M737 82h3v3h-3z"/><path d="M738 83h1v1h-1z" fill="#fff"/><path d="M739 76h1v12h-1z"/><path d="M738 80h3v3h-3z"/><path d="M739 81h1v1h-1z" fill="#fff"/><path d="M739 75h1v13h-1z"/><path d="M738 80h3v3h-3z"/><path d="M740 78h1v11h-1z"/><path d="M739 83h3v4h-3z"/><path d="M741 86h1v5h-1z"/><path d="M740 87h3v3h-3z"/><path d="M742 89h1v5h-1z"/><path d="M741 89h3v4h-3z"/><path d="M743 91h1v6h-1z"/><path d="M742 92h3v3h-3z"/><path d="M744 93h1v4h-1z"/><path d="M743 94h3v3h-3z"/><path d="M745 94h1v4h-1z"/><path d="M744 95h3v3h-3z"/><path d="M746 94h1v5h-1z"/><path d="M745 94h3v3h-3z"/><path d="M747 94h1v5h-1z"/><path d="M746 94h3v3h-3z"/><path d="M747 95h1v1h-1z" fill="#fff"/><path d="M748 94h1v5h-1z"/><path d="M747 94h3v3h-3z"/><path d="M749 94h1v4h-1z"/><path d="M748 95h3v3h-3z"/><path d="M749 96h1v1h-1z" fill="#fff"/><path d="M750 92h1v6h-1z"/><path d="M749 94h3v3h-3z"/><path d="M750 95h1v1h-1z" fill="#fff"/><path d="M751 93h1v5h-1z"/><path d="M750 94h3v3h-3z"/><path d="M751 95h1v1h-1z" fill="#fff"/><path d="M751 93h1v4h-1z"/><path d="M750 94h3v3h-3z"/><path d="M751 95h1v1h-1z" fill="#fff"/><path d="M752 92h1v5h-1z"/><path d="M751 94h3v3h-3z"/><path d="M752 95h1v1h-1z" fill="#fff"/><path d="M753 91h1v5h-1z"/><path d="M752 92h3v3h-3z"/><path d="M753 93h1v1h-1z" fill="#fff"/><path d="M754 89h1v5h-1z"/><path d="M753 90h3v3h-3z"/><path d="M754 91h1v1h-1z" fill="#fff"/><path d="M755 86h1v6h-1z"/><path d="M754 88h3v3h-3z"/><path d="M755 89h1v1h-1z" fill="#fff"/><path d="M756 84h1v7h-1z"/><path d="M755 87h3v3h-3z"/><path d="M757 84h1v7h-1z"/><path d="M756 85h3v3h-3z"/><path d="M757 86h1v1h-1z" fill="#fff"/><path d="M758 82h1v6h-1z"/><path d="M757 85h3v3h-3z"/><path d="M758 86h1v1h-1z" fill="#fff"/><path d="M759 82h1v4h-1z"/><path d="M758 83h3v3h-3z"/><path d="M759 84h1v1h-1z" fill="#fff"/><path d="M760 82h1v5h-1z"/><path d="M759 83h3v3h-3z"/><path d="M760 84h1v1h-1z" fill="#fff"/><path d="M761 82h1v5h-1z"/><path d="M760 83h3v3h-3z"/><path d="M762 81h1v7h-1z"/><path d="M761 83h3v3h-3z"/><path d="M762 84h1v1h-1z" fill="#fff"/><path d="M763 81h1v7h-1z"/><path d="M762 83h3v3h-3z"/><path d="M763 80h1v7h-1z"/><path d="M762 81h3v3h-3z"/><path d="M763 82h1v1h-1z" fill="#fff"/><path d="M764 79h1v6h-1z"/><path d="M763 80h3v3h-3z"/><path d="M764 81h1v1h-1z" fill="#fff"/><path d="M765 77h1v7h-1z"/><path d="M764 78h3v3h-3z"/><path d="M765 79h1v1h-1z" fill="#fff"/><path d="M766 76h1v6h-1z"/><path d="M765 77h3v3h-3z"/><path d="M766 78h1v1h-1z" fill="#fff"/><path d="M767 74h1v6h-1z"/><path d="M766 75h3v3h-3z"/><path d="M767 76h1v1h-1z" fill="#fff"/><path d="M768 73h1v8h-1z"/><path d="M767 75h3v3h-3z"/><path d="M768 76h1v1h-1z" fill="#fff"/><path d="M769 70h1v7h-1z"/><path d="M768 72h3v4h-3z"/><path d="M769 73h1v2h-1z" fill="#fff"/><path d="M770 68h1v8h-1z"/><path d="M769 71h3v3h-3z"/><path d="M770 72h1v1h-1z" fill="#fff"/><path d="M771 68h1v4h-1z"/><path d="M770 68h3v3h-3z"/><path d="M771 69h1v1h-1z" fill="#fff"/><path d="M772 67h1v4h-1z"/><path d="M771 68h3v3h-3z"/><path d="M772 69h1v1h-1z" fill="#fff"/><path d="M773 67h1v8h-1z"/><path d="M772 68h3v3h-3z"/><path d="M774 68h1v5h-1z"/><path d="M773 69h3v3h-3z"/><path d="M774 70h1v1h-1z" fill="#fff"/><path d="M775 68h1v8h-1z"/><path d="M774 69h3v3h-3z"/><path d="M775 68h1v6h-1z"/><path d="M774 69h3v3h-3z"/><path d="M776 69h1v8h-1z"/><path d="M775 69h3v3h-3z"/><path d="M777 69h1v5h-1z"/><path d="M776 69h3v3h-3z"/><path d="M778 66h1v7h-1z"/><path d="M777 70h3v3h-3z"/><path d="M779 70h1v3h-1z"/><path d="M778 70h3v3h-3z"/><path d="M780 72h1v7h-1z"/><path d="M779 73h3v3h-3z"/><path d="M781 74h1v5h-1z"/><path d="M780 75h3v3h-3z"/><path d="M782 78h1v3h-1z"/><path d="M781 78h3v3h-3z"/><path d="M783 78h1v4h-1z"/><path d="M782 79h3v3h-3z"/><path d="M784 79h1v4h-1z"/><path d="M783 79h3v3h-3z"/><path d="M785 80h1v3h-1z"/><path d="M784 79h3v3h-3z"/><path d="M786 80h1v4h-1z"/><path d="M785 81h3v3h-3z"/><path d="M786 82h1v1h-1z" fill="#fff"/><path d="M787 80h1v4h-1z"/><path d="M786 80h3v3h-3z"/><path d="M787 81h1v1h-1z" fill="#fff"/><path d="M787 77h1v8h-1z"/><path d="M786 81h3v3h-3z"/><path d="M787 82h1v1h-1z" fill="#fff"/><path d="M788 79h1v6h-1z"/><path d="M787 79h3v3h-3z"/><path d="M788 80h1v1h-1z" fill="#fff"/><path d="M789 76h1v5h-1z"/><path d="M788 77h3v4h-3z"/><path d="M789 78h1v2h-1z" fill="#fff"/><path d="M790 75h1v3h-1z"/><path d="M789 75h3v3h-3z"/><path d="M790 76h1v1h-1z" fill="#fff"/><path d="M3 192h3v3h-3z"/><path d="M4 193h1v1h-1z" fill="#fff"/><path d="M7 191h3v3h-3z"/><path d="M8 192h1v1h-1z" fill="#fff"/><path d="M10 190h3v3h-3z"/><path d="M11 191h1v1h-1z" fill="#fff"/><path d="M14 186h3v3h-3z"/><path d="M16 183h3v3h-3z"/><path d="M17 184h1v1h-1z" fill="#fff"/><path d="M19 181h3v3h-3z"/><path d="M23 180h3v3h-3z"/><path d="M25 178h3v3h-3z"/><path d="M26 179h1v1h-1z" fill="#fff"/><path d="M29 177h3v3h-3z"/><path d="M30 178h1v1h-1z" fill="#fff"/><path d="M31 175h3v3h-3z"/><path d="M32 176h1v1h-1z" fill="#fff"/><path d="M34 179h3v4h-3z"/><path d="M37 176h3v3h-3z"/><path d="M40 173h3v3h-3z"/><path d="M41 174h1v1h-1z" fill="#fff"/><path d="M43 170h3v3h-3z"/><path d="M44 171h1v1h-1z" fill="#fff"/><path d="M47 166h3v3h-3z"/><path d="M48 167h1v1h-1z" fill="#fff"/><path d="M51 164h3v3h-3z"/><path d="M52 165h1v1h-1z" fill="#fff"/><path d="M54 165h3v3h-3z"/><path d="M55 166h1v1h-1z" fill="#fff"/><path d="M57 163h3v3h-3z"/><path d="M58 164h1v1h-1z" fill="#fff"/><path d="M60 159h3v3h-3z"/><path d="M61 160h1v1h-1z" fill="#fff"/><path d="M64 156h3v3h-3z"/><path d="M65 157h1v1h-1z" fill="#fff"/><path d="M67 158h3v3h-3z"/><path d="M68 159h1v1h-1z" fill="#fff"/><path d="M70 161h3v6h-3z"/><path d="M73 159h3v3h-3z"/><path d="M74 160h1v1h-1z" fill="#fff"/><path d="M76 154h3v3h-3z"/><path d="M77 155h1v1h-1z" fill="#fff"/><path d="M79 151h3v3h-3z"/><path d="M80 152h1v1h-1z" fill="#fff"/><path d="M82 149h3v3h-3z"/><path d="M83 150h1v1h-1z" fill="#fff"/><path d="M84 150h3v4h-3z"/><path d="M85 153h3v13h-3z"/><path d="M86 166h3v11h-3z"/><path d="M87 184h3v7h-3z"/><path d="M89 195h3v10h-3z"/><path d="M90 176h3v14h-3z"/><path d="M91 177h1v12h-1z" fill="#fff"/><path d="M93 192h3v9h-3z"/><path d="M94 193h1v7h-1z" fill="#fff"/><path d="M95 203h3v6h-3z"/><path d="M96 204h1v4h-1z" fill="#fff"/><path d="M95 209h3v14h-3z"/><path d="M96 210h1v12h-1z" fill="#fff"/><path d="M97 242h3v11h-3z"/><path d="M98 224h3v18h-3z"/><path d="M99 225h1v16h-1z" fill="#fff"/><path d="M99 262h3v7h-3z"/><path d="M100 246h3v10h-3z"/><path d="M101 247h1v8h-1z" fill="#fff"/><path d="M100 253h3v26h-3z"/><path d="M103 278h3v15h-3z"/><path d="M104 256h3v13h-3z"/><path d="M105 257h1v11h-1z" fill="#fff"/><path d="M105 252h3v3h-3z"/><path d="M106 253h1v1h-1z" fill="#fff"/><path d="M106 233h3v16h-3z"/><path d="M107 234h1v14h-1z" fill="#fff"/><path d="M108 233h3v9h-3z"/><path d="M109 234h1v7h-1z" fill="#fff"/><path d="M110 239h3v15h-3z"/><path d="M112 247h3v7h-3z"/><path d="M112 229h3v10h-3z"/><path d="M113 230h1v8h-1z" fill="#fff"/><path d="M114 218h3v11h-3z"/><path d="M115 219h1v9h-1z" fill="#fff"/><path d="M116 216h3v3h-3z"/><path d="M117 217h1v1h-1z" fill="#fff"/><path d="M116 206h3v15h-3z"/><path d="M120 203h3v17h-3z"/><path d="M121 204h1v15h-1z" fill="#fff"/><path d="M122 215h3v4h-3z"/><path d="M124 208h3v8h-3z"/><path d="M125 209h1v6h-1z" fill="#fff"/><path d="M126 196h3v10h-3z"/><path d="M127 197h1v8h-1z" fill="#fff"/><path d="M129 202h3v9h-3z"/><path d="M133 197h3v8h-3z"/><path d="M137 196h3v22h-3z"/><path d="M138 203h3v9h-3z"/><path d="M139 204h1v7h-1z" fill="#fff"/><path d="M140 192h3v5h-3z"/><path d="M144 185h3v5h-3z"/><path d="M145 186h1v3h-1z" fill="#fff"/><path d="M145 184h3v9h-3z"/><path d="M146 185h1v7h-1z" fill="#fff"/><path d="M146 180h3v5h-3z"/><path d="M147 181h1v3h-1z" fill="#fff"/><path d="M148 179h3v7h-3z"/><path d="M148 176h3v4h-3z"/><path d="M149 175h3v3h-3z"/><path d="M150 176h1v1h-1z" fill="#fff"/><path d="M152 164h3v5h-3z"/><path d="M153 165h1v3h-1z" fill="#fff"/><path d="M155 176h3v15h-3z"/><path d="M156 177h1v13h-1z" fill="#fff"/><path d="M159 172h3v6h-3z"/><path d="M160 173h1v4h-1z" fill="#fff"/><path d="M162 174h3v10h-3z"/><path d="M163 175h1v8h-1z" fill="#fff"/><path d="M165 178h3v9h-3z"/><path d="M168 175h3v7h-3z"/><path d="M169 176h1v5h-1z" fill="#fff"/><path d="M171 168h3v6h-3z"/><path d="M172 169h1v4h-1z" fill="#fff"/><path d="M175 164h3v9h-3z"/><path d="M176 165h1v7h-1z" fill="#fff"/><path d="M180 159h3v6h-3z"/><path d="M181 160h1v4h-1z" fill="#fff"/><path d="M185 161h3v4h-3z"/><path d="M189 155h3v3h-3z"/><path d="M190 156h1v1h-1z" fill="#fff"/><path d="M193 149h3v4h-3z"/><path d="M198 147h3v3h-3z"/><path d="M199 148h1v1h-1z" fill="#fff"/><path d="M200 147h3v3h-3z"/><path d="M204 138h3v5h-3z"/><path d="M205 139h1v3h-1z" fill="#fff"/><path d="M209 129h3v10h-3z"/><path d="M210 130h1v8h-1z" fill="#fff"/><path d="M211 139h3v13h-3z"/><path d="M212 140h1v11h-1z" fill="#fff"/><path d="M215 143h3v10h-3z"/><path d="M216 144h1v8h-1z" fill="#fff"/><path d="M217 144h3v3h-3z"/><path d="M218 145h1v1h-1z" fill="#fff"/><path d="M220 149h3v13h-3z"/><path d="M222 155h3v9h-3z"/><path d="M226 149h3v3h-3z"/><path d="M227 150h1v1h-1z" fill="#fff"/><path d="M229 144h3v8h-3z"/><path d="M230 145h1v6h-1z" fill="#fff"/><path d="M231 143h3v4h-3z"/><path d="M232 144h1v2h-1z" fill="#fff"/><path d="M233 133h3v8h-3z"/><path d="M234 134h1v6h-1z" fill="#fff"/><path d="M237 135h3v7h-3z"/><path d="M240 137h3v6h-3z"/><path d="M243 142h3v5h-3z"/><path d="M246 151h3v8h-3z"/><path d="M248 147h3v4h-3z"/><path d="M249 148h1v2h-1z" fill="#fff"/><path d="M249 139h3v5h-3z"/><path d="M250 140h1v3h-1z" fill="#fff"/><path d="M250 133h3v4h-3z"/><path d="M251 134h1v2h-1z" fill="#fff"/><path d="M252 121h3v11h-3z"/><path d="M253 122h1v9h-1z" fill="#fff"/><path d="M256 124h3v6h-3z"/><path d="M257 125h1v4h-1z" fill="#fff"/><path d="M259 126h3v4h-3z"/><path d="M262 123h3v3h-3z"/><path d="M263 124h1v1h-1z" fill="#fff"/><path d="M267 119h3v4h-3z"/><path d="M268 120h1v2h-1z" fill="#fff"/><path d="M270 116h3v4h-3z"/><path d="M274 118h3v3h-3z"/><path d="M279 108h3v13h-3z"/><path d="M280 109h1v11h-1z" fill="#fff"/><path d="M283 111h3v3h-3z"/><path d="M286 111h3v7h-3z"/><path d="M288 108h3v8h-3z"/><path d="M289 109h1v6h-1z" fill="#fff"/><path d="M292 105h3v3h-3z"/><path d="M295 104h3v6h-3z"/><path d="M298 102h3v3h-3z"/><path d="M299 103h1v1h-1z" fill="#fff"/><path d="M300 101h3v3h-3z"/><path d="M301 102h1v1h-1z" fill="#fff"/><path d="M302 106h3v10h-3z"/><path d="M304 107h3v5h-3z"/><path d="M305 108h1v3h-1z" fill="#fff"/><path d="M306 101h3v5h-3z"/><path d="M308 98h3v3h-3z"/><path d="M313 94h3v4h-3z"/><path d="M314 95h1v2h-1z" fill="#fff"/><path d="M318 96h3v8h-3z"/><path d="M321 98h3v8h-3z"/><path d="M322 99h1v6h-1z" fill="#fff"/><path d="M324 101h3v11h-3z"/><path d="M327 99h3v5h-3z"/><path d="M328 100h1v3h-1z" fill="#fff"/><path d="M330 92h3v4h-3z"/><path d="M331 93h1v2h-1z" fill="#fff"/><path d="M332 91h3v3h-3z"/><path d="M333 92h1v1h-1z" fill="#fff"/><path d="M335 94h3v5h-3z"/><path d="M338 92h3v8h-3z"/><path d="M339 93h1v6h-1z" fill="#fff"/><path d="M341 87h3v3h-3z"/><path d="M342 88h1v1h-1z" fill="#fff"/><path d="M343 84h3v3h-3z"/><path d="M344 85h1v1h-1z" fill="#fff"/><path d="M347 79h3v3h-3z"/><path d="M348 80h1v1h-1z" fill="#fff"/><path d="M351 76h3v3h-3z"/><path d="M355 76h3v3h-3z"/><path d="M358 73h3v3h-3z"/><path d="M359 74h1v1h-1z" fill="#fff"/><path d="M362 72h3v4h-3z"/><path d="M363 73h1v2h-1z" fill="#fff"/><path d="M365 71h3v3h-3z"/><path d="M368 77h3v7h-3z"/><path d="M369 78h1v5h-1z" fill="#fff"/><path d="M373 77h3v5h-3z"/><path d="M374 78h1v3h-1z" fill="#fff"/><path d="M376 72h3v5h-3z"/><path d="M381 71h3v3h-3z"/><path d="M382 72h1v1h-1z" fill="#fff"/><path d="M386 70h3v3h-3z"/><path d="M387 71h1v1h-1z" fill="#fff"/><path d="M389 68h3v3h-3z"/><path d="M390 69h1v1h-1z" fill="#fff"/><path d="M392 71h3v5h-3z"/><path d="M396 66h3v3h-3z"/><path d="M397 67h1v1h-1z" fill="#fff"/><path d="M401 61h3v4h-3z"/><path d="M406 59h3v3h-3z"/><path d="M407 60h1v1h-1z" fill="#fff"/><path d="M409 58h3v3h-3z"/><path d="M410 59h1v1h-1z" fill="#fff"/><path d="M412 60h3v8h-3z"/><path d="M415 55h3v3h-3z"/><path d="M416 56h1v1h-1z" fill="#fff"/><path d="M421 55h3v3h-3z"/><path d="M426 52h3v3h-3z"/><path d="M427 53h1v1h-1z" fill="#fff"/><path d="M429 51h3v3h-3z"/><path d="M432 53h3v6h-3z"/><path d="M434 50h3v3h-3z"/><path d="M435 51h1v1h-1z" fill="#fff"/><path d="M438 47h3v3h-3z"/><path d="M442 46h3v3h-3z"/><path d="M446 48h3v4h-3z"/><path d="M450 50h3v4h-3z"/><path d="M451 58h3v4h-3z"/><path d="M455 52h3v4h-3z"/><path d="M456 53h1v2h-1z" fill="#fff"/><path d="M458 56h3v6h-3z"/><path d="M459 57h1v4h-1z" fill="#fff"/><path d="M460 59h3v6h-3z"/><path d="M461 60h1v4h-1z" fill="#fff"/><path d="M464 55h3v5h-3z"/><path d="M465 56h1v3h-1z" fill="#fff"/><path d="M466 58h3v3h-3z"/><path d="M467 59h1v1h-1z" fill="#fff"/><path d="M468 53h3v3h-3z"/><path d="M469 54h1v1h-1z" fill="#fff"/><path d="M471 48h3v3h-3z"/><path d="M472 49h1v1h-1z" fill="#fff"/><path d="M473 43h3v3h-3z"/><path d="M474 44h1v1h-1z" fill="#fff"/><path d="M477 41h3v3h-3z"/><path d="M478 42h1v1h-1z" fill="#fff"/><path d="M481 36h3v4h-3z"/><path d="M482 37h1v2h-1z" fill="#fff"/><path d="M483 33h3v3h-3z"/><path d="M486 35h3v3h-3z"/><path d="M487 36h1v1h-1z" fill="#fff"/><path d="M490 33h3v3h-3z"/><path d="M491 34h1v1h-1z" fill="#fff"/><path d="M493 32h3v3h-3z"/><path d="M494 33h1v1h-1z" fill="#fff"/><path d="M496 35h3v5h-3z"/><path d="M498 39h3v8h-3z"/><path d="M502 34h3v7h-3z"/><path d="M503 35h1v5h-1z" fill="#fff"/><path d="M505 33h3v3h-3z"/><path d="M506 34h1v1h-1z" fill="#fff"/><path d="M509 32h3v8h-3z"/><path d="M510 33h1v6h-1z" fill="#fff"/><path d="M510 42h3v3h-3z"/><path d="M512 30h3v10h-3z"/><path d="M513 31h1v8h-1z" fill="#fff"/><path d="M515 27h3v3h-3z"/><path d="M516 28h1v1h-1z" fill="#fff"/><path d="M520 26h3v3h-3z"/><path d="M521 27h1v1h-1z" fill="#fff"/><path d="M522 28h3v6h-3z"/><path d="M523 29h1v4h-1z" fill="#fff"/><path d="M525 30h3v7h-3z"/><path d="M528 37h3v8h-3z"/><path d="M529 38h1v6h-1z" fill="#fff"/><path d="M531 45h3v11h-3z"/><path d="M532 46h1v9h-1z" fill="#fff"/><path d="M532 52h3v16h-3z"/><path d="M535 46h3v16h-3z"/><path d="M538 40h3v9h-3z"/><path d="M539 41h1v7h-1z" fill="#fff"/><path d="M541 45h3v4h-3z"/><path d="M542 46h1v2h-1z" fill="#fff"/><path d="M543 40h3v9h-3z"/><path d="M544 41h1v7h-1z" fill="#fff"/><path d="M546 48h3v7h-3z"/><path d="M548 49h3v9h-3z"/><path d="M551 56h3v21h-3z"/><path d="M554 55h3v7h-3z"/><path d="M555 56h1v5h-1z" fill="#fff"/><path d="M557 53h3v10h-3z"/><path d="M558 54h1v8h-1z" fill="#fff"/><path d="M559 63h3v8h-3z"/><path d="M563 63h3v8h-3z"/><path d="M565 57h3v9h-3z"/><path d="M566 58h1v7h-1z" fill="#fff"/><path d="M567 49h3v9h-3z"/><path d="M568 50h1v7h-1z" fill="#fff"/><path d="M570 43h3v7h-3z"/><path d="M571 44h1v5h-1z" fill="#fff"/><path d="M573 36h3v8h-3z"/><path d="M574 37h1v6h-1z" fill="#fff"/><path d="M577 39h3v5h-3z"/><path d="M580 46h3v4h-3z"/><path d="M583 50h3v5h-3z"/><path d="M584 51h1v3h-1z" fill="#fff"/><path d="M587 46h3v10h-3z"/><path d="M588 47h1v8h-1z" fill="#fff"/><path d="M590 56h3v8h-3z"/><path d="M592 62h3v9h-3z"/><path d="M594 64h3v14h-3z"/><path d="M597 60h3v12h-3z"/><path d="M598 72h3v4h-3z"/><path d="M600 79h3v9h-3z"/><path d="M602 82h3v13h-3z"/><path d="M603 83h1v11h-1z" fill="#fff"/><path d="M605 77h3v7h-3z"/><path d="M606 78h1v5h-1z" fill="#fff"/><path d="M607 82h3v18h-3z"/><path d="M610 79h3v11h-3z"/><path d="M611 80h1v9h-1z" fill="#fff"/><path d="M612 71h3v6h-3z"/><path d="M613 72h1v4h-1z" fill="#fff"/><path d="M616 70h3v7h-3z"/><path d="M617 71h1v5h-1z" fill="#fff"/><path d="M619 72h3v10h-3z"/><path d="M620 88h3v5h-3z"/><path d="M621 89h1v3h-1z" fill="#fff"/><path d="M621 100h3v7h-3z"/><path d="M622 101h1v5h-1z" fill="#fff"/><path d="M624 105h3v9h-3z"/><path d="M625 106h1v7h-1z" fill="#fff"/><path d="M627 101h3v6h-3z"/><path d="M628 102h1v4h-1z" fill="#fff"/><path d="M630 90h3v9h-3z"/><path d="M631 91h1v7h-1z" fill="#fff"/><path d="M631 89h3v13h-3z"/><path d="M634 96h3v9h-3z"/><path d="M636 92h3v6h-3z"/><path d="M638 94h3v6h-3z"/><path d="M639 95h1v4h-1z" fill="#fff"/><path d="M641 99h3v7h-3z"/><path d="M642 100h1v5h-1z" fill="#fff"/><path d="M643 89h3v7h-3z"/><path d="M645 83h3v6h-3z"/><path d="M648 82h3v7h-3z"/><path d="M650 73h3v9h-3z"/><path d="M654 70h3v6h-3z"/><path d="M655 71h1v4h-1z" fill="#fff"/><path d="M657 67h3v6h-3z"/><path d="M658 68h1v4h-1z" fill="#fff"/><path d="M661 60h3v4h-3z"/><path d="M662 61h1v2h-1z" fill="#fff"/><path d="M664 61h3v3h-3z"/><path d="M665 62h1v1h-1z" fill="#fff"/><path d="M668 67h3v11h-3z"/><path d="M671 80h3v8h-3z"/><path d="M675 83h3v7h-3z"/><path d="M676 84h1v5h-1z" fill="#fff"/><path d="M678 79h3v8h-3z"/><path d="M679 80h1v6h-1z" fill="#fff"/><path d="M679 73h3v3h-3z"/><path d="M681 87h3v6h-3z"/><path d="M683 90h3v6h-3z"/><path d="M686 94h3v10h-3z"/><path d="M688 106h3v7h-3z"/><path d="M689 107h1v5h-1z" fill="#fff"/><path d="M690 107h3v11h-3z"/><path d="M691 108h1v9h-1z" fill="#fff"/><path d="M693 100h3v8h-3z"/><path d="M694 101h1v6h-1z" fill="#fff"/><path d="M696 107h3v11h-3z"/><path d="M700 114h3v12h-3z"/><path d="M702 107h3v9h-3z"/><path d="M703 108h1v7h-1z" fill="#fff"/><path d="M705 102h3v10h-3z"/><path d="M706 103h1v8h-1z" fill="#fff"/><path d="M707 94h3v7h-3z"/><path d="M708 95h1v5h-1z" fill="#fff"/><path d="M709 90h3v7h-3z"/><path d="M710 91h1v5h-1z" fill="#fff"/><path d="M712 89h3v13h-3z"/><path d="M714 95h3v12h-3z"/><path d="M717 97h3v6h-3z"/><path d="M718 84h3v7h-3z"/><path d="M719 85h1v5h-1z" fill="#fff"/><path d="M721 81h3v5h-3z"/><path d="M722 82h1v3h-1z" fill="#fff"/><path d="M723 84h3v5h-3z"/><path d="M724 85h1v3h-1z" fill="#fff"/><path d="M726 81h3v5h-3z"/><path d="M727 82h1v3h-1z" fill="#fff"/><path d="M731 75h3v9h-3z"/><path d="M732 76h1v7h-1z" fill="#fff"/><path d="M735 80h3v7h-3z"/><path d="M736 81h1v5h-1z" fill="#fff"/><path d="M739 74h3v15h-3z"/><path d="M740 75h1v13h-1z" fill="#fff"/><path d="M740 86h3v4h-3z"/><path d="M743 93h3v4h-3z"/><path d="M745 94h3v6h-3z"/><path d="M748 94h3v4h-3z"/><path d="M749 95h1v2h-1z" fill="#fff"/><path d="M752 91h3v6h-3z"/><path d="M753 92h1v4h-1z" fill="#fff"/><path d="M754 86h3v7h-3z"/><path d="M758 82h3v5h-3z"/><path d="M759 83h1v3h-1z" fill="#fff"/><path d="M761 81h3v8h-3z"/><path d="M762 82h1v6h-1z" fill="#fff"/><path d="M765 76h3v7h-3z"/><path d="M766 77h1v5h-1z" fill="#fff"/><path d="M768 71h3v6h-3z"/><path d="M769 72h1v4h-1z" fill="#fff"/><path d="M770 66h3v5h-3z"/><path d="M771 67h1v3h-1z" fill="#fff"/><path d="M774 68h3v7h-3z"/><path d="M778 69h3v5h-3z"/><path d="M781 77h3v5h-3z"/><path d="M782 78h1v3h-1z" fill="#fff"/><path d="M785 80h3v4h-3z"/><path d="M787 78h3v8h-3z"/><path d="M789 75h3v3h-3z"/><path d="M790 76h1v1h-1z" fill="#fff"/></g>
<polyline points="5.7,657.5 27.6,660.0 48.7,659.4 65.0,660.0 73.1,655.0 81.2,653.4 87.7,651.0 94.2,638.0 97.5,621.7 100.7,597.4 104.0,579.5 108.0,573.8 110.2,575.4 115.2,570.4 120.2,590.5 124.0,610.6 130.3,620.6 136.5,628.0 142.8,633.0 152.9,642.0 160.4,637.0 170.0,639.5 178.3,641.6 182.4,650.0 190.7,653.0 198.9,655.0 209.3,656.0 217.5,652.0 225.8,648.9 234.1,645.8 242.4,650.0 246.5,648.9 252.7,644.7 258.9,643.3 267.2,643.7 275.4,654.0 285.8,655.7 298.2,655.0 310.6,653.0 323.0,653.0 337.4,653.6 356.0,659.2 366.3,658.6 378.7,654.7 389.1,655.0 399.4,659.2 411.8,659.2 424.2,656.5 436.6,659.2 447.0,660.2 457.3,656.5 469.7,654.0 473.8,653.0 480.0,656.5 486.2,657.1 494.5,660.2 500.7,655.0 508.9,652.4 516.2,650.5 524.4,656.5 533.7,653.6 544.1,649.5 554.4,645.8 564.8,645.3 573.0,646.8 579.2,652.0 585.4,655.0 595.8,654.4 604.0,649.9 610.2,643.3 620.6,642.7 628.8,638.5 635.0,641.2 643.3,640.6 648.4,647.8 661.9,648.2 670.1,651.0 684.6,649.9 695.0,644.7 704.3,641.6 713.6,644.7 723.9,641.6 730.1,645.8 738.4,645.8 746.6,651.0 759.0,649.5 769.4,652.0 779.7,651.0 788.0,648.2 790.5,648.9" fill="none" stroke="#000" stroke-width="2"/>
<path d="M4 656h1v1h-1zM5 655h1v3h-1zM6 652h1v3h-1zM7 654h1v6h-1zM8 660h1v4h-1zM9 659h1v3h-1zM10 656h1v8h-1zM11 651h1v7h-1zM12 658h1v7h-1zM13 661h1v3h-1zM14 664h1v4h-1zM15 660h1v4h-1zM16 658h1v8h-1zM17 650h1v8h-1zM18 657h1v8h-1zM19 656h1v5h-1zM20 661h1v6h-1zM21 662h1v3h-1zM22 661h1v4h-1zM23 664h1v4h-1zM24 660h1v4h-1zM25 658h1v3h-1zM26 655h1v6h-1zM27 661h1v6h-1zM28 665h1v1h-1zM29 663h1v4h-1zM30 658h1v5h-1zM31 662h1v5h-1zM32 659h1v5h-1zM33 656h1v5h-1zM34 650h1v17h-1zM35 636h1v14h-1zM36 648h1v14h-1zM37 656h1v9h-1zM38 646h1v10h-1zM39 656h1v10h-1zM40 659h1v4h-1zM41 656h1v4h-1zM42 656h1v8h-1zM43 648h1v8h-1zM44 653h1v7h-1zM45 660h1v3h-1zM46 660h1v7h-1zM47 661h1v3h-1zM48 662h1v3h-1zM49 658h1v4h-1zM50 662h1v4h-1zM51 661h1v5h-1zM52 655h1v6h-1zM53 650h1v18h-1zM54 632h1v18h-1zM55 647h1v15h-1zM56 659h1v5h-1zM57 654h1v5h-1zM58 656h1v12h-1zM59 654h1v7h-1zM60 659h1v6h-1zM61 656h1v5h-1zM62 661h1v6h-1zM63 657h1v5h-1zM64 661h1v6h-1zM65 655h1v6h-1zM66 661h1v6h-1zM67 640h1v27h-1zM68 612h1v28h-1zM69 640h1v28h-1zM70 657h1v11h-1zM71 649h1v10h-1zM72 651h1v7h-1zM73 646h1v18h-1zM74 628h1v18h-1zM75 644h1v17h-1zM76 645h1v9h-1zM77 654h1v9h-1zM78 649h1v7h-1zM79 654h1v6h-1zM80 652h1v4h-1zM81 655h1v6h-1zM82 648h1v12h-1zM83 646h1v8h-1zM84 643h1v9h-1zM85 616h1v45h-1zM86 571h1v45h-1zM87 612h1v45h-1zM88 618h1v44h-1zM89 574h1v44h-1zM90 604h1v44h-1zM91 648h1v15h-1zM92 638h1v13h-1zM93 642h1v13h-1zM94 469h1v173h-1zM95 434h1v35h-1zM96 463h1v79h-1zM97 526h1v67h-1zM98 435h1v91h-1zM99 376h1v59h-1zM100 340h1v62h-1zM101 402h1v110h-1zM102 512h1v85h-1zM103 597h1v38h-1zM104 544h1v64h-1zM105 506h1v38h-1zM106 544h1v107h-1zM107 550h1v60h-1zM108 529h1v43h-1zM109 572h1v44h-1zM110 573h1v33h-1zM111 548h1v25h-1zM112 561h1v16h-1zM113 545h1v16h-1zM114 548h1v13h-1zM115 561h1v57h-1zM116 618h1v49h-1zM117 618h1v48h-1zM118 570h1v59h-1zM119 608h1v29h-1zM120 637h1v30h-1zM121 641h1v22h-1zM122 622h1v19h-1zM123 625h1v27h-1zM124 588h1v37h-1zM125 577h1v42h-1zM126 619h1v43h-1zM127 627h1v18h-1zM128 640h1v14h-1zM129 629h1v30h-1zM130 617h1v21h-1zM131 627h1v21h-1zM132 605h1v22h-1zM133 621h1v16h-1zM134 612h1v22h-1zM135 631h1v26h-1zM136 605h1v26h-1zM137 630h1v25h-1zM138 649h1v4h-1zM139 626h1v32h-1zM140 594h1v32h-1zM141 621h1v30h-1zM142 635h1v15h-1zM143 635h1v14h-1zM144 610h1v25h-1zM145 598h1v32h-1zM146 630h1v32h-1zM147 637h1v13h-1zM148 646h1v9h-1zM149 647h1v4h-1zM150 647h1v9h-1zM151 648h1v18h-1zM152 630h1v18h-1zM153 632h1v34h-1zM154 633h1v3h-1zM155 614h1v25h-1zM156 588h1v35h-1zM157 623h1v36h-1zM158 628h1v16h-1zM159 620h1v39h-1zM160 581h1v39h-1zM161 610h1v30h-1zM162 620h1v16h-1zM163 636h1v19h-1zM164 652h1v7h-1zM165 644h1v16h-1zM166 642h1v12h-1zM167 636h1v9h-1zM168 645h1v10h-1zM169 638h1v14h-1zM170 646h1v21h-1zM171 625h1v21h-1zM172 623h1v19h-1zM173 642h1v19h-1zM174 633h1v18h-1zM175 625h1v19h-1zM176 644h1v19h-1zM177 630h1v28h-1zM178 658h1v10h-1zM179 649h1v10h-1zM180 654h1v10h-1zM181 644h1v10h-1zM182 652h1v9h-1zM183 649h1v8h-1zM184 657h1v9h-1zM185 651h1v8h-1zM186 650h1v14h-1zM187 636h1v14h-1zM188 649h1v13h-1zM189 650h1v7h-1zM190 653h1v5h-1zM191 658h1v5h-1zM192 656h1v10h-1zM193 645h1v11h-1zM194 652h1v8h-1zM195 643h1v9h-1zM196 647h1v12h-1zM197 659h1v9h-1zM198 662h1v4h-1zM199 658h1v4h-1zM200 660h1v3h-1zM201 653h1v9h-1zM202 643h1v10h-1zM203 647h1v9h-1zM204 656h1v7h-1zM205 659h1v4h-1zM206 661h1v7h-1zM207 654h1v7h-1zM208 660h1v7h-1zM209 653h1v10h-1zM210 646h1v7h-1zM211 636h1v23h-1zM212 613h1v23h-1zM213 631h1v33h-1zM214 653h1v7h-1zM215 656h1v12h-1zM216 644h1v12h-1zM217 654h1v10h-1zM218 636h1v22h-1zM219 618h1v19h-1zM220 637h1v20h-1zM221 620h1v19h-1zM222 639h1v20h-1zM223 650h1v6h-1zM224 644h1v19h-1zM225 624h1v24h-1zM226 648h1v13h-1zM227 661h1v3h-1zM228 638h1v23h-1zM229 617h1v23h-1zM230 640h1v23h-1zM231 652h1v6h-1zM232 655h1v7h-1zM233 648h1v7h-1zM234 646h1v14h-1zM235 632h1v16h-1zM236 647h1v17h-1zM237 630h1v34h-1zM238 651h1v11h-1zM239 641h1v10h-1zM240 648h1v9h-1zM241 655h1v5h-1zM242 650h1v8h-1zM243 658h1v8h-1zM244 654h1v6h-1zM245 634h1v24h-1zM246 610h1v24h-1zM247 628h1v18h-1zM248 643h1v5h-1zM249 637h1v22h-1zM250 615h1v23h-1zM251 638h1v24h-1zM252 594h1v59h-1zM253 544h1v50h-1zM254 573h1v48h-1zM255 621h1v31h-1zM256 652h1v12h-1zM257 640h1v12h-1zM258 649h1v9h-1zM259 650h1v9h-1zM260 651h1v17h-1zM261 634h1v21h-1zM262 640h1v13h-1zM263 628h1v13h-1zM264 641h1v14h-1zM265 642h1v7h-1zM266 643h1v6h-1zM267 636h1v7h-1zM268 640h1v5h-1zM269 636h1v15h-1zM270 651h1v16h-1zM271 648h1v10h-1zM272 658h1v10h-1zM273 655h1v7h-1zM274 655h1v5h-1zM275 659h1v6h-1zM276 650h1v9h-1zM277 645h1v11h-1zM278 656h1v11h-1zM279 640h1v17h-1zM280 631h1v13h-1zM281 644h1v16h-1zM282 658h1v6h-1zM283 652h1v7h-1zM284 657h1v10h-1zM285 647h1v11h-1zM286 658h1v10h-1zM287 655h1v7h-1zM288 661h1v7h-1zM289 658h1v5h-1zM290 658h1v5h-1zM291 647h1v11h-1zM292 640h1v8h-1zM293 648h1v11h-1zM294 659h1v3h-1zM295 656h1v4h-1zM296 652h1v7h-1zM297 657h1v10h-1zM298 655h1v3h-1zM299 657h1v4h-1zM300 653h1v4h-1zM301 649h1v12h-1zM302 637h1v12h-1zM303 649h1v12h-1zM304 648h1v11h-1zM305 637h1v11h-1zM306 646h1v15h-1zM307 659h1v9h-1zM308 649h1v10h-1zM309 648h1v18h-1zM310 657h1v10h-1zM311 648h1v10h-1zM312 657h1v10h-1zM313 648h1v11h-1zM314 643h1v5h-1zM315 648h1v6h-1zM316 654h1v5h-1zM317 659h1v6h-1zM318 652h1v10h-1zM319 643h1v11h-1zM320 654h1v11h-1zM321 644h1v19h-1zM322 624h1v20h-1zM323 638h1v18h-1zM324 656h1v7h-1zM325 651h1v15h-1zM326 635h1v16h-1zM327 649h1v14h-1zM328 650h1v13h-1zM329 637h1v13h-1zM330 642h1v15h-1zM331 657h1v11h-1zM332 645h1v12h-1zM333 645h1v18h-1zM334 655h1v11h-1zM335 648h1v9h-1zM336 655h1v7h-1zM337 653h1v6h-1zM338 650h1v7h-1zM339 657h1v7h-1zM340 650h1v7h-1zM341 653h1v3h-1zM342 651h1v3h-1zM343 647h1v4h-1zM344 644h1v5h-1zM345 649h1v15h-1zM346 663h1v3h-1zM347 659h1v4h-1zM348 660h1v2h-1zM349 659h1v3h-1zM350 659h1v7h-1zM351 651h1v8h-1zM352 650h1v3h-1zM353 653h1v8h-1zM354 661h1v6h-1zM355 658h1v5h-1zM356 661h1v3h-1zM357 662h1v5h-1zM358 656h1v6h-1zM359 661h1v6h-1zM360 653h1v11h-1zM361 645h1v8h-1zM362 651h1v7h-1zM363 658h1v3h-1zM364 661h1v4h-1zM365 660h1v7h-1zM366 652h1v8h-1zM367 649h1v18h-1zM368 630h1v31h-1zM369 657h1v8h-1zM370 649h1v9h-1zM371 658h1v9h-1zM372 656h1v6h-1zM373 646h1v17h-1zM374 629h1v19h-1zM375 648h1v19h-1zM376 656h1v6h-1zM377 654h1v3h-1zM378 657h1v4h-1zM379 653h1v4h-1zM380 648h1v14h-1zM381 648h1v9h-1zM382 657h1v9h-1zM383 648h1v9h-1zM384 656h1v9h-1zM385 663h1v1h-1zM386 661h1v5h-1zM387 655h1v6h-1zM388 657h1v2h-1zM389 657h1v4h-1zM390 658h1v7h-1zM391 650h1v8h-1zM392 641h1v25h-1zM393 652h1v12h-1zM394 654h1v6h-1zM395 659h1v7h-1zM396 651h1v8h-1zM397 654h1v7h-1zM398 661h1v5h-1zM399 660h1v3h-1zM400 660h1v6h-1zM401 653h1v7h-1zM402 660h1v7h-1zM403 660h1v4h-1zM404 644h1v22h-1zM405 626h1v18h-1zM406 644h1v20h-1zM407 664h1v3h-1zM408 663h1v3h-1zM409 660h1v3h-1zM410 661h1v3h-1zM411 649h1v19h-1zM412 629h1v20h-1zM413 647h1v19h-1zM414 663h1v2h-1zM415 660h1v4h-1zM416 660h1v8h-1zM417 658h1v3h-1zM418 658h1v6h-1zM419 650h1v8h-1zM420 647h1v7h-1zM421 654h1v8h-1zM422 662h1v2h-1zM423 659h1v4h-1zM424 654h1v6h-1zM425 660h1v6h-1zM426 654h1v6h-1zM427 660h1v6h-1zM428 653h1v7h-1zM429 659h1v5h-1zM430 661h1v4h-1zM431 653h1v8h-1zM432 647h1v9h-1zM433 656h1v10h-1zM434 654h1v6h-1zM435 658h1v5h-1zM436 661h1v3h-1zM437 662h1v5h-1zM438 656h1v6h-1zM439 660h1v4h-1zM440 659h1v5h-1zM441 655h1v5h-1zM442 660h1v6h-1zM443 658h1v6h-1zM444 654h1v4h-1zM445 656h1v5h-1zM446 660h1v5h-1zM447 650h1v10h-1zM448 644h1v12h-1zM449 656h1v12h-1zM450 661h1v4h-1zM451 644h1v23h-1zM452 620h1v41h-1zM453 660h1v4h-1zM454 655h1v5h-1zM455 658h1v4h-1zM456 661h1v4h-1zM457 657h1v5h-1zM458 662h1v5h-1zM459 658h1v5h-1zM460 662h1v4h-1zM461 659h1v4h-1zM462 653h1v14h-1zM463 639h1v14h-1zM464 647h1v16h-1zM465 650h1v7h-1zM466 655h1v5h-1zM467 658h1v4h-1zM468 647h1v11h-1zM469 639h1v8h-1zM470 646h1v10h-1zM471 656h1v5h-1zM472 657h1v2h-1zM473 655h1v5h-1zM474 650h1v8h-1zM475 658h1v8h-1zM476 658h1v7h-1zM477 655h1v5h-1zM478 657h1v6h-1zM479 650h1v8h-1zM480 658h1v8h-1zM481 655h1v8h-1zM482 649h1v7h-1zM483 656h1v7h-1zM484 652h1v6h-1zM485 658h1v6h-1zM486 651h1v7h-1zM487 657h1v6h-1zM488 656h1v8h-1zM489 664h1v3h-1zM490 659h1v5h-1zM491 655h1v6h-1zM492 661h1v6h-1zM493 662h1v3h-1zM494 661h1v3h-1zM495 656h1v5h-1zM496 637h1v19h-1zM497 620h1v17h-1zM498 635h1v16h-1zM499 626h1v15h-1zM500 641h1v26h-1zM501 656h1v8h-1zM502 641h1v15h-1zM503 629h1v14h-1zM504 643h1v18h-1zM505 661h1v5h-1zM506 659h1v4h-1zM507 656h1v3h-1zM508 658h1v2h-1zM509 656h1v5h-1zM510 648h1v18h-1zM511 630h1v18h-1zM512 644h1v22h-1zM513 653h1v9h-1zM514 657h1v5h-1zM515 650h1v7h-1zM516 646h1v8h-1zM517 652h1v10h-1zM518 641h1v11h-1zM519 652h1v12h-1zM520 657h1v4h-1zM521 658h1v8h-1zM522 649h1v9h-1zM523 657h1v9h-1zM524 657h1v8h-1zM525 649h1v8h-1zM526 654h1v7h-1zM527 655h1v8h-1zM528 641h1v14h-1zM529 634h1v9h-1zM530 643h1v14h-1zM531 657h1v6h-1zM532 653h1v5h-1zM533 640h1v21h-1zM534 618h1v22h-1zM535 637h1v24h-1zM536 655h1v12h-1zM537 653h1v8h-1zM538 644h1v10h-1zM539 644h1v20h-1zM540 624h1v22h-1zM541 646h1v22h-1zM542 644h1v12h-1zM543 651h1v8h-1zM544 639h1v17h-1zM545 624h1v15h-1zM546 636h1v17h-1zM547 648h1v11h-1zM548 636h1v26h-1zM549 651h1v7h-1zM550 657h1v8h-1zM551 649h1v8h-1zM552 624h1v38h-1zM553 585h1v39h-1zM554 621h1v37h-1zM555 649h1v5h-1zM556 654h1v5h-1zM557 652h1v6h-1zM558 646h1v10h-1zM559 656h1v10h-1zM560 601h1v67h-1zM561 609h1v28h-1zM562 637h1v21h-1zM563 649h1v5h-1zM564 650h1v7h-1zM565 657h1v7h-1zM566 651h1v7h-1zM567 647h1v8h-1zM568 638h1v13h-1zM569 651h1v14h-1zM570 650h1v8h-1zM571 652h1v4h-1zM572 643h1v10h-1zM573 653h1v11h-1zM574 653h1v6h-1zM575 657h1v4h-1zM576 661h1v1h-1zM577 654h1v10h-1zM578 643h1v11h-1zM579 650h1v11h-1zM580 639h1v12h-1zM581 651h1v13h-1zM582 656h1v4h-1zM583 653h1v12h-1zM584 651h1v3h-1zM585 654h1v8h-1zM586 662h1v6h-1zM587 655h1v7h-1zM588 661h1v7h-1zM589 656h1v6h-1zM590 658h1v3h-1zM591 656h1v5h-1zM592 661h1v6h-1zM593 658h1v8h-1zM594 641h1v17h-1zM595 630h1v35h-1zM596 646h1v10h-1zM597 654h1v8h-1zM598 657h1v4h-1zM599 642h1v24h-1zM600 617h1v25h-1zM601 642h1v26h-1zM602 651h1v9h-1zM603 659h1v8h-1zM604 652h1v8h-1zM605 639h1v22h-1zM606 616h1v23h-1zM607 637h1v22h-1zM608 648h1v8h-1zM609 656h1v7h-1zM610 650h1v7h-1zM611 646h1v13h-1zM612 632h1v14h-1zM613 639h1v11h-1zM614 646h1v9h-1zM615 636h1v10h-1zM616 642h1v12h-1zM617 630h1v12h-1zM618 640h1v16h-1zM619 644h1v19h-1zM620 624h1v37h-1zM621 587h1v37h-1zM622 624h1v37h-1zM623 634h1v16h-1zM624 632h1v35h-1zM625 596h1v36h-1zM626 627h1v32h-1zM627 616h1v26h-1zM628 642h1v26h-1zM629 641h1v14h-1zM630 650h1v11h-1zM631 638h1v23h-1zM632 645h1v9h-1zM633 654h1v9h-1zM634 641h1v20h-1zM635 622h1v19h-1zM636 641h1v20h-1zM637 623h1v19h-1zM638 641h1v18h-1zM639 646h1v11h-1zM640 628h1v18h-1zM641 619h1v9h-1zM642 624h1v11h-1zM643 635h1v20h-1zM644 654h1v7h-1zM645 646h1v8h-1zM646 648h1v10h-1zM647 658h1v8h-1zM648 651h1v8h-1zM649 656h1v6h-1zM650 651h1v6h-1zM651 653h1v8h-1zM652 644h1v9h-1zM653 651h1v9h-1zM654 651h1v13h-1zM655 637h1v23h-1zM656 633h1v14h-1zM657 636h1v14h-1zM658 636h1v25h-1zM659 610h1v27h-1zM660 637h1v28h-1zM661 646h1v10h-1zM662 656h1v10h-1zM663 653h1v7h-1zM664 660h1v7h-1zM665 654h1v7h-1zM666 646h1v15h-1zM667 630h1v33h-1zM668 641h1v11h-1zM669 648h1v11h-1zM670 657h1v6h-1zM671 651h1v7h-1zM672 658h1v8h-1zM673 652h1v7h-1zM674 649h1v12h-1zM675 637h1v12h-1zM676 644h1v12h-1zM677 656h1v6h-1zM678 656h1v5h-1zM679 632h1v34h-1zM680 598h1v34h-1zM681 628h1v30h-1zM682 631h1v14h-1zM683 641h1v16h-1zM684 657h1v7h-1zM685 650h1v10h-1zM686 643h1v12h-1zM687 655h1v13h-1zM688 641h1v14h-1zM689 647h1v13h-1zM690 657h1v11h-1zM691 645h1v19h-1zM692 652h1v8h-1zM693 633h1v19h-1zM694 618h1v22h-1zM695 640h1v23h-1zM696 641h1v11h-1zM697 645h1v13h-1zM698 658h1v9h-1zM699 657h1v9h-1zM700 626h1v31h-1zM701 602h1v24h-1zM702 625h1v31h-1zM703 597h1v67h-1zM704 630h1v34h-1zM705 648h1v9h-1zM706 645h1v10h-1zM707 646h1v20h-1zM708 625h1v21h-1zM709 640h1v16h-1zM710 644h1v6h-1zM711 645h1v8h-1zM712 651h1v10h-1zM713 640h1v11h-1zM714 647h1v8h-1zM715 625h1v29h-1zM716 616h1v17h-1zM717 633h1v25h-1zM718 609h1v58h-1zM719 550h1v59h-1zM720 605h1v56h-1zM721 647h1v7h-1zM722 648h1v4h-1zM723 642h1v14h-1zM724 628h1v14h-1zM725 642h1v14h-1zM726 656h1v5h-1zM727 656h1v11h-1zM728 648h1v8h-1zM729 650h1v8h-1zM730 656h1v9h-1zM731 647h1v9h-1zM732 643h1v15h-1zM733 628h1v18h-1zM734 646h1v19h-1zM735 656h1v8h-1zM736 648h1v9h-1zM737 655h1v11h-1zM738 643h1v12h-1zM739 579h1v87h-1zM740 621h1v42h-1zM741 646h1v9h-1zM742 651h1v14h-1zM743 637h1v14h-1zM744 648h1v11h-1zM745 644h1v8h-1zM746 641h1v3h-1zM747 639h1v12h-1zM748 651h1v13h-1zM749 654h1v5h-1zM750 657h1v5h-1zM751 651h1v14h-1zM752 653h1v6h-1zM753 653h1v11h-1zM754 641h1v12h-1zM755 650h1v10h-1zM756 655h1v7h-1zM757 647h1v8h-1zM758 650h1v9h-1zM759 641h1v11h-1zM760 652h1v12h-1zM761 653h1v6h-1zM762 657h1v5h-1zM763 649h1v15h-1zM764 634h1v15h-1zM765 645h1v12h-1zM766 656h1v3h-1zM767 653h1v3h-1zM768 651h1v8h-1zM769 643h1v8h-1zM770 651h1v8h-1zM771 642h1v15h-1zM772 629h1v13h-1zM773 637h1v16h-1zM774 653h1v12h-1zM775 653h1v15h-1zM776 644h1v9h-1zM777 653h1v11h-1zM778 657h1v10h-1zM779 638h1v19h-1zM780 628h1v11h-1zM781 639h1v15h-1zM782 654h1v6h-1zM783 650h1v10h-1zM784 634h1v16h-1zM785 627h1v13h-1zM786 640h1v18h-1zM787 656h1v8h-1zM788 652h1v4h-1zM789 655h1v5h-1zM790 660h1v2h-1z" fill="#f00"/>
</g>
<text x="4" y="13" textLength="424" lengthAdjust="spacing">SPY - Daily 3/6/2023 Open 405.05, Hi 407.45, Lo 404.01, Close 404.47 (0.1%)</text>
<text x="4" y="331" textLength="260.8" lengthAdjust="spacing">SPY - <tspan fill="#f00">Avg gaps</tspan> = 0.21, MA1(Avg gaps,25) = 0.58</text>
<text x="57.5" y="312" font-weight="bold" textLength="28" lengthAdjust="spacing">2020</text><text x="114" y="312">Apr</text><text x="172" y="312">Jul</text><text x="231" y="312">Oct</text><text x="290.5" y="312" font-weight="bold" textLength="28" lengthAdjust="spacing">2021</text><text x="346" y="312">Apr</text><text x="405" y="312">Jul</text><text x="464" y="312">Oct</text><text x="523.5" y="312" font-weight="bold" textLength="28" lengthAdjust="spacing">2022</text><text x="580" y="312">Apr</text><text x="637" y="312">Jul</text><text x="696" y="312">Oct</text><text x="755.5" y="312" font-weight="bold" textLength="28" lengthAdjust="spacing">2023</text>
<text x="858" y="45" text-anchor="end">450</text><text x="858" y="127" text-anchor="end">350</text><text x="858" y="178" text-anchor="end">300</text><text x="858" y="238" text-anchor="end">250</text>
<path d="M803 76.5 L809.5 69 H855 V84 H809.5 Z" fill="#c3c3c3"/><rect x="802" y="79" width="3" height="1" fill="#808080" shape-rendering="crispEdges"/>
<text x="813" y="81" textLength="37.6" lengthAdjust="spacing">404.47</text>
<path d="M855.2 74 Q858.2 78.5 855.2 83" fill="none" stroke="#000" stroke-width="1"/>
<rect x="809" y="639" width="50" height="15" fill="#000"/>
<text x="813" y="651" style="fill:#fff" textLength="44.6" lengthAdjust="spacing">0.58006</text>
<path d="M802 661.5 L809 654 H859 V669 H809 Z" fill="#f00"/>
<text x="813" y="666" textLength="44.6" lengthAdjust="spacing">0.21276</text>
</svg>
</body></html>
